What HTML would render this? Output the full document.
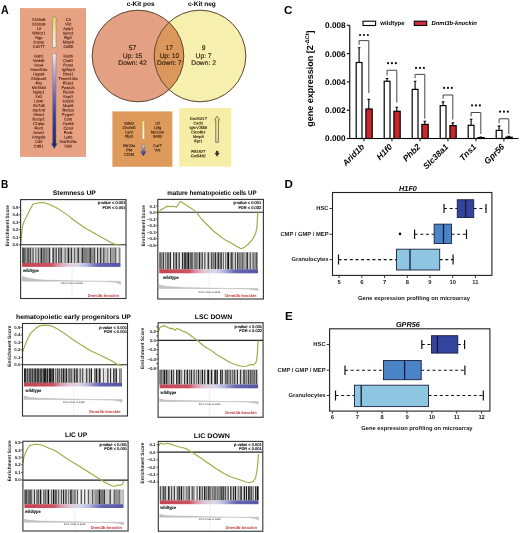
<!DOCTYPE html>
<html><head><meta charset="utf-8"><style>
html,body{margin:0;padding:0;background:#fff;}
svg{display:block;filter:blur(0.35px);}
text{font-family:"Liberation Sans",sans-serif;text-rendering:geometricPrecision;}
</style></head><body>
<svg width="520" height="533" viewBox="0 0 520 533">
<rect width="520" height="533" fill="#fff"/>
<text x="1.00" y="13.65" font-size="12.6" text-anchor="start" font-weight="bold" fill="#000" textLength="7.7" lengthAdjust="spacingAndGlyphs">A</text>
<rect x="20" y="8.1" width="66" height="148.8" fill="#e6a283"/>
<defs>
<linearGradient id="gup" x1="0" y1="0" x2="0" y2="1"><stop offset="0" stop-color="#f2d24a"/><stop offset="0.45" stop-color="#f4e6a0"/><stop offset="1" stop-color="#f4f0f0"/></linearGradient>
<linearGradient id="gdn" x1="0" y1="0" x2="0" y2="1"><stop offset="0" stop-color="#f6f2f0"/><stop offset="0.2" stop-color="#b0acd4"/><stop offset="0.45" stop-color="#6a68a8"/><stop offset="0.65" stop-color="#3e4084"/><stop offset="1" stop-color="#22265a"/></linearGradient>
<linearGradient id="gup2" x1="0" y1="0" x2="0" y2="1"><stop offset="0" stop-color="#f6e86a"/><stop offset="1" stop-color="#fbfaf0"/></linearGradient>
<linearGradient id="gdn2" x1="0" y1="0" x2="0" y2="1"><stop offset="0" stop-color="#d8d6f0"/><stop offset="0.5" stop-color="#6a68b0"/><stop offset="1" stop-color="#2a2a6a"/></linearGradient>
<linearGradient id="gup3" x1="0" y1="0" x2="0" y2="1"><stop offset="0" stop-color="#eee68a"/><stop offset="0.55" stop-color="#e8e29c"/><stop offset="1" stop-color="#d6d4c6"/></linearGradient>
</defs>
<path d="M52.599999999999994,47.5 L52.599999999999994,20.2 L51.4,20.2 L54.3,16.2 L57.199999999999996,20.2 L56.0,20.2 L56.0,47.5 Z" fill="url(#gup)" stroke="#8a7f7a" stroke-width="0.6"/>
<path d="M52.599999999999994,53.8 L56.0,53.8 L56.0,143.5 L57.4,143.5 L54.3,148.8 L51.199999999999996,143.5 L52.599999999999994,143.5 Z" fill="url(#gdn)" stroke="#7a7890" stroke-width="0.5"/>
<g transform="rotate(0.03,53,82)">
<text x="38.80" y="20.90" font-size="3.9" text-anchor="middle" fill="#461a0e" stroke="#461a0e" stroke-width="0.1">S100a8</text>
<text x="38.80" y="25.40" font-size="3.9" text-anchor="middle" fill="#461a0e" stroke="#461a0e" stroke-width="0.1">S100a9</text>
<text x="38.80" y="29.90" font-size="3.9" text-anchor="middle" fill="#461a0e" stroke="#461a0e" stroke-width="0.1">Ltf</text>
<text x="38.80" y="34.40" font-size="3.9" text-anchor="middle" fill="#461a0e" stroke="#461a0e" stroke-width="0.1">Wfdc21</text>
<text x="38.80" y="38.90" font-size="3.9" text-anchor="middle" fill="#461a0e" stroke="#461a0e" stroke-width="0.1">Ngp</text>
<text x="38.80" y="43.40" font-size="3.9" text-anchor="middle" fill="#461a0e" stroke="#461a0e" stroke-width="0.1">Camp</text>
<text x="38.80" y="47.90" font-size="3.9" text-anchor="middle" fill="#461a0e" stroke="#461a0e" stroke-width="0.1">Cd177</text>
<text x="68.20" y="20.90" font-size="3.9" text-anchor="middle" fill="#461a0e" stroke="#461a0e" stroke-width="0.1">C3</text>
<text x="68.20" y="25.40" font-size="3.9" text-anchor="middle" fill="#461a0e" stroke="#461a0e" stroke-width="0.1">Vil2</text>
<text x="68.20" y="29.90" font-size="3.9" text-anchor="middle" fill="#461a0e" stroke="#461a0e" stroke-width="0.1">Aplp1</text>
<text x="68.20" y="34.40" font-size="3.9" text-anchor="middle" fill="#461a0e" stroke="#461a0e" stroke-width="0.1">Syne1</text>
<text x="68.20" y="38.90" font-size="3.9" text-anchor="middle" fill="#461a0e" stroke="#461a0e" stroke-width="0.1">Rgl1</text>
<text x="68.20" y="43.40" font-size="3.9" text-anchor="middle" fill="#461a0e" stroke="#461a0e" stroke-width="0.1">Mmp8</text>
<text x="68.20" y="47.90" font-size="3.9" text-anchor="middle" fill="#461a0e" stroke="#461a0e" stroke-width="0.1">Cd55</text>
<text x="38.80" y="57.60" font-size="3.9" text-anchor="middle" fill="#461a0e" stroke="#461a0e" stroke-width="0.1">Gab1</text>
<text x="38.80" y="62.10" font-size="3.9" text-anchor="middle" fill="#461a0e" stroke="#461a0e" stroke-width="0.1">Nedd9</text>
<text x="38.80" y="66.60" font-size="3.9" text-anchor="middle" fill="#461a0e" stroke="#461a0e" stroke-width="0.1">Sox4</text>
<text x="38.80" y="71.10" font-size="3.9" text-anchor="middle" fill="#461a0e" stroke="#461a0e" stroke-width="0.1">Snord16a</text>
<text x="38.80" y="75.60" font-size="3.9" text-anchor="middle" fill="#461a0e" stroke="#461a0e" stroke-width="0.1">Hspa8</text>
<text x="38.80" y="80.10" font-size="3.9" text-anchor="middle" fill="#461a0e" stroke="#461a0e" stroke-width="0.1">Sh3pxd2</text>
<text x="38.80" y="84.60" font-size="3.9" text-anchor="middle" fill="#461a0e" stroke="#461a0e" stroke-width="0.1">Fns</text>
<text x="38.80" y="89.10" font-size="3.9" text-anchor="middle" fill="#461a0e" stroke="#461a0e" stroke-width="0.1">Mir1946</text>
<text x="38.80" y="93.60" font-size="3.9" text-anchor="middle" fill="#461a0e" stroke="#461a0e" stroke-width="0.1">Ngfrp1</text>
<text x="38.80" y="98.10" font-size="3.9" text-anchor="middle" fill="#461a0e" stroke="#461a0e" stroke-width="0.1">Xrl2</text>
<text x="38.80" y="102.60" font-size="3.9" text-anchor="middle" fill="#461a0e" stroke="#461a0e" stroke-width="0.1">Ltb4r</text>
<text x="38.80" y="107.10" font-size="3.9" text-anchor="middle" fill="#461a0e" stroke="#461a0e" stroke-width="0.1">Slc7a5</text>
<text x="38.80" y="111.60" font-size="3.9" text-anchor="middle" fill="#461a0e" stroke="#461a0e" stroke-width="0.1">Atp10d</text>
<text x="38.80" y="116.10" font-size="3.9" text-anchor="middle" fill="#461a0e" stroke="#461a0e" stroke-width="0.1">Slmo2</text>
<text x="38.80" y="120.60" font-size="3.9" text-anchor="middle" fill="#461a0e" stroke="#461a0e" stroke-width="0.1">Bzrap1</text>
<text x="38.80" y="125.10" font-size="3.9" text-anchor="middle" fill="#461a0e" stroke="#461a0e" stroke-width="0.1">C1qbp</text>
<text x="38.80" y="129.60" font-size="3.9" text-anchor="middle" fill="#461a0e" stroke="#461a0e" stroke-width="0.1">Fech</text>
<text x="38.80" y="134.10" font-size="3.9" text-anchor="middle" fill="#461a0e" stroke="#461a0e" stroke-width="0.1">Sesn1</text>
<text x="38.80" y="138.60" font-size="3.9" text-anchor="middle" fill="#461a0e" stroke="#461a0e" stroke-width="0.1">Arhgdib</text>
<text x="38.80" y="143.10" font-size="3.9" text-anchor="middle" fill="#461a0e" stroke="#461a0e" stroke-width="0.1">Cd9</text>
<text x="38.80" y="147.60" font-size="3.9" text-anchor="middle" fill="#461a0e" stroke="#461a0e" stroke-width="0.1">Cd81</text>
<text x="68.20" y="57.60" font-size="3.9" text-anchor="middle" fill="#461a0e" stroke="#461a0e" stroke-width="0.1">Hadh</text>
<text x="68.20" y="62.10" font-size="3.9" text-anchor="middle" fill="#461a0e" stroke="#461a0e" stroke-width="0.1">Cisd1</text>
<text x="68.20" y="66.60" font-size="3.9" text-anchor="middle" fill="#461a0e" stroke="#461a0e" stroke-width="0.1">Pcnt2</text>
<text x="68.20" y="71.10" font-size="3.9" text-anchor="middle" fill="#461a0e" stroke="#461a0e" stroke-width="0.1">Igf2bp3</text>
<text x="68.20" y="75.60" font-size="3.9" text-anchor="middle" fill="#461a0e" stroke="#461a0e" stroke-width="0.1">Dhrs1</text>
<text x="68.20" y="80.10" font-size="3.9" text-anchor="middle" fill="#461a0e" stroke="#461a0e" stroke-width="0.1">Tmem106c</text>
<text x="68.20" y="84.60" font-size="3.9" text-anchor="middle" fill="#461a0e" stroke="#461a0e" stroke-width="0.1">F13a1</text>
<text x="68.20" y="89.10" font-size="3.9" text-anchor="middle" fill="#461a0e" stroke="#461a0e" stroke-width="0.1">Ppap2c</text>
<text x="68.20" y="93.60" font-size="3.9" text-anchor="middle" fill="#461a0e" stroke="#461a0e" stroke-width="0.1">Pscd4</text>
<text x="68.20" y="98.10" font-size="3.9" text-anchor="middle" fill="#461a0e" stroke="#461a0e" stroke-width="0.1">Sept1</text>
<text x="68.20" y="102.60" font-size="3.9" text-anchor="middle" fill="#461a0e" stroke="#461a0e" stroke-width="0.1">Cd300</text>
<text x="68.20" y="107.10" font-size="3.9" text-anchor="middle" fill="#461a0e" stroke="#461a0e" stroke-width="0.1">Mcpt8</text>
<text x="68.20" y="111.60" font-size="3.9" text-anchor="middle" fill="#461a0e" stroke="#461a0e" stroke-width="0.1">Retsat</text>
<text x="68.20" y="116.10" font-size="3.9" text-anchor="middle" fill="#461a0e" stroke="#461a0e" stroke-width="0.1">Pygm1</text>
<text x="68.20" y="120.60" font-size="3.9" text-anchor="middle" fill="#461a0e" stroke="#461a0e" stroke-width="0.1">Cst6</text>
<text x="68.20" y="125.10" font-size="3.9" text-anchor="middle" fill="#461a0e" stroke="#461a0e" stroke-width="0.1">Gpr84</text>
<text x="68.20" y="129.60" font-size="3.9" text-anchor="middle" fill="#461a0e" stroke="#461a0e" stroke-width="0.1">Cpa3</text>
<text x="68.20" y="134.10" font-size="3.9" text-anchor="middle" fill="#461a0e" stroke="#461a0e" stroke-width="0.1">Fcnb</text>
<text x="68.20" y="138.60" font-size="3.9" text-anchor="middle" fill="#461a0e" stroke="#461a0e" stroke-width="0.1">Ly86</text>
<text x="68.20" y="143.10" font-size="3.9" text-anchor="middle" fill="#461a0e" stroke="#461a0e" stroke-width="0.1">Hist1h2bc</text>
<text x="68.20" y="147.60" font-size="3.9" text-anchor="middle" fill="#461a0e" stroke="#461a0e" stroke-width="0.1">Ifi30</text>
</g>
<text x="126.80" y="5.80" font-size="6.5" text-anchor="start" font-weight="bold" fill="#000" >c-Kit pos</text>
<text x="188.00" y="5.80" font-size="6.5" text-anchor="start" font-weight="bold" fill="#000" >c-Kit neg</text>
<defs><clipPath id="cl"><circle cx="138" cy="56" r="45.8"/></clipPath></defs>
<circle cx="138" cy="56" r="45.8" fill="#e3a082"/>
<circle cx="200" cy="56" r="45.8" fill="#f7efad"/>
<circle cx="200" cy="56" r="45.8" fill="#dc985a" clip-path="url(#cl)"/>
<circle cx="138" cy="56" r="45.8" fill="none" stroke="#5a4632" stroke-width="1.0"/>
<circle cx="200" cy="56" r="45.8" fill="none" stroke="#5a4632" stroke-width="1.0"/>
<text x="132.50" y="50.20" font-size="6.7" text-anchor="middle" fill="#36200f" stroke="#36200f" stroke-width="0.15">57</text>
<text x="132.50" y="57.60" font-size="6.7" text-anchor="middle" fill="#36200f" stroke="#36200f" stroke-width="0.15">Up: 15</text>
<text x="132.50" y="65.00" font-size="6.7" text-anchor="middle" fill="#36200f" stroke="#36200f" stroke-width="0.15">Down: 42</text>
<text x="169.30" y="50.20" font-size="6.7" text-anchor="middle" fill="#36200f" stroke="#36200f" stroke-width="0.15">17</text>
<text x="169.30" y="57.60" font-size="6.7" text-anchor="middle" fill="#36200f" stroke="#36200f" stroke-width="0.15">Up: 10</text>
<text x="169.30" y="65.00" font-size="6.7" text-anchor="middle" fill="#36200f" stroke="#36200f" stroke-width="0.15">Down: 7</text>
<text x="203.60" y="50.20" font-size="6.7" text-anchor="middle" fill="#36200f" stroke="#36200f" stroke-width="0.15">9</text>
<text x="203.60" y="57.60" font-size="6.7" text-anchor="middle" fill="#36200f" stroke="#36200f" stroke-width="0.15">Up: 7</text>
<text x="203.60" y="65.00" font-size="6.7" text-anchor="middle" fill="#36200f" stroke="#36200f" stroke-width="0.15">Down: 2</text>
<rect x="112.4" y="111.4" width="60" height="55.4" fill="#de9a5a"/>
<rect x="179.3" y="108.1" width="52" height="58.5" fill="#f6eea6"/>
<g transform="rotate(0.03,142,140)">
<text x="129.20" y="124.80" font-size="3.9" text-anchor="middle" fill="#3a2414" stroke="#3a2414" stroke-width="0.14">Sdsl2</text>
<text x="129.20" y="129.10" font-size="3.9" text-anchor="middle" fill="#3a2414" stroke="#3a2414" stroke-width="0.14">Chchd1</text>
<text x="129.20" y="133.40" font-size="3.9" text-anchor="middle" fill="#3a2414" stroke="#3a2414" stroke-width="0.14">Lyz2</text>
<text x="129.20" y="137.70" font-size="3.9" text-anchor="middle" fill="#3a2414" stroke="#3a2414" stroke-width="0.14">Fpr2</text>
<text x="129.20" y="147.00" font-size="3.9" text-anchor="middle" fill="#3a2414" stroke="#3a2414" stroke-width="0.14">Mir23a</text>
<text x="129.20" y="151.40" font-size="3.9" text-anchor="middle" fill="#3a2414" stroke="#3a2414" stroke-width="0.14">Pf4</text>
<text x="129.20" y="155.80" font-size="3.9" text-anchor="middle" fill="#3a2414" stroke="#3a2414" stroke-width="0.14">CD34</text>
<text x="157.50" y="124.80" font-size="3.9" text-anchor="middle" fill="#3a2414" stroke="#3a2414" stroke-width="0.14">Lif</text>
<text x="157.50" y="129.10" font-size="3.9" text-anchor="middle" fill="#3a2414" stroke="#3a2414" stroke-width="0.14">Lyfg</text>
<text x="157.50" y="133.40" font-size="3.9" text-anchor="middle" fill="#3a2414" stroke="#3a2414" stroke-width="0.14">Mecom</text>
<text x="157.50" y="137.70" font-size="3.9" text-anchor="middle" fill="#3a2414" stroke="#3a2414" stroke-width="0.14">Wnt3</text>
<text x="157.50" y="147.00" font-size="3.9" text-anchor="middle" fill="#3a2414" stroke="#3a2414" stroke-width="0.14">Car7</text>
<text x="157.50" y="151.40" font-size="3.9" text-anchor="middle" fill="#3a2414" stroke="#3a2414" stroke-width="0.14">Vnt</text>
</g>
<path d="M142.20000000000002,139 L142.20000000000002,123 L141.4,123 L143.4,120.2 L145.4,123 L144.6,123 L144.6,139 Z" fill="url(#gup2)" stroke="#9a8a60" stroke-width="0.4"/>
<path d="M142.1,145 L144.70000000000002,145 L144.70000000000002,151.5 L146.4,151.5 L143.4,156 L140.4,151.5 L142.1,151.5 Z" fill="url(#gdn2)" stroke="#555" stroke-width="0.3"/>
<g transform="rotate(0.03,198,137)">
<text x="198.30" y="119.90" font-size="3.9" text-anchor="middle" fill="#2e2a14" stroke="#2e2a14" stroke-width="0.14">Gm20317</text>
<text x="198.30" y="124.40" font-size="3.9" text-anchor="middle" fill="#2e2a14" stroke="#2e2a14" stroke-width="0.14">Cxcl2</text>
<text x="198.30" y="128.90" font-size="3.9" text-anchor="middle" fill="#2e2a14" stroke="#2e2a14" stroke-width="0.14">Igh-VJ558</text>
<text x="198.30" y="133.40" font-size="3.9" text-anchor="middle" fill="#2e2a14" stroke="#2e2a14" stroke-width="0.14">Clec4b2</text>
<text x="198.30" y="137.90" font-size="3.9" text-anchor="middle" fill="#2e2a14" stroke="#2e2a14" stroke-width="0.14">Mmp8</text>
<text x="198.30" y="142.40" font-size="3.9" text-anchor="middle" fill="#2e2a14" stroke="#2e2a14" stroke-width="0.14">Fpr1</text>
<text x="198.30" y="152.80" font-size="3.9" text-anchor="middle" fill="#2e2a14" stroke="#2e2a14" stroke-width="0.14">Rik1627</text>
<text x="198.30" y="157.20" font-size="3.9" text-anchor="middle" fill="#2e2a14" stroke="#2e2a14" stroke-width="0.14">Gm5482</text>
</g>
<path d="M215.7,142.4 L215.7,120 L214.5,120 L217.1,116.2 L219.7,120 L218.5,120 L218.5,142.4 Z" fill="url(#gup3)" stroke="#5e5838" stroke-width="0.7"/>
<path d="M216.1,151 L218.1,151 L218.1,153 L219.29999999999998,153 L217.1,156.5 L214.9,153 L216.1,153 Z" fill="#333" stroke="#222" stroke-width="0.3"/>
<text x="284.00" y="13.60" font-size="11.6" text-anchor="start" font-weight="bold" fill="#000" >C</text>
<g stroke="#000" stroke-width="1.1" fill="none">
<path d="M349.75,25.2 L349.75,138.5 L518.5,138.5"/>
<path d="M346.8,138.50 L349.75,138.50"/>
<path d="M346.8,110.20 L349.75,110.20"/>
<path d="M346.8,81.90 L349.75,81.90"/>
<path d="M346.8,53.60 L349.75,53.60"/>
<path d="M346.8,25.30 L349.75,25.30"/>
</g>
<text x="345.60" y="141.45" font-size="8.2" text-anchor="end" font-weight="bold" fill="#000" >0.000</text>
<text x="345.60" y="113.15" font-size="8.2" text-anchor="end" font-weight="bold" fill="#000" >0.002</text>
<text x="345.60" y="84.85" font-size="8.2" text-anchor="end" font-weight="bold" fill="#000" >0.004</text>
<text x="345.60" y="56.55" font-size="8.2" text-anchor="end" font-weight="bold" fill="#000" >0.006</text>
<text x="345.60" y="28.25" font-size="8.2" text-anchor="end" font-weight="bold" fill="#000" >0.008</text>
<text transform="translate(312.6,78.6) rotate(-90)" font-size="9" font-weight="bold" text-anchor="middle" fill="#000">gene expression [2<tspan font-size="5.6" dy="-3.6">-ΔCt</tspan><tspan dy="3.6">]</tspan></text>
<rect x="363" y="21.2" width="12.6" height="4.3" fill="#fff" stroke="#000" stroke-width="1.1"/>
<text x="380.30" y="25.20" font-size="6.0" text-anchor="start" font-weight="bold" fill="#000" letter-spacing="0.05">wildtype</text>
<rect x="414.3" y="21.2" width="12.4" height="4.3" fill="#d42a44" stroke="#000" stroke-width="1.1"/>
<text x="431.50" y="25.40" font-size="5.8" text-anchor="start" font-weight="bold" font-style="italic" fill="#000" >Dnmt3b-knockin</text>
<path d="M359.10,62.50 L359.10,47.75 M357.80,47.75 L360.40,47.75" stroke="#000" stroke-width="1.1" fill="none"/>
<path d="M368.80,109.00 L368.80,99.40 M367.50,99.40 L370.10,99.40" stroke="#000" stroke-width="1.1" fill="none"/>
<rect x="356.20" y="62.50" width="5.80" height="76.00" fill="#fff" stroke="#000" stroke-width="1.2"/>
<rect x="365.90" y="109.00" width="6.30" height="29.50" fill="#c8282c" stroke="#000" stroke-width="1.2"/>
<path d="M359.10,44.75 L359.10,40.60 L368.80,40.60 L368.80,93.10" stroke="#333" stroke-width="0.9" fill="none"/>
<circle cx="360.05" cy="35.00" r="1.12" fill="#111"/>
<circle cx="363.95" cy="35.00" r="1.12" fill="#111"/>
<circle cx="367.85" cy="35.00" r="1.12" fill="#111"/>
<path d="M363.95,138.5 L363.95,141.3" stroke="#000" stroke-width="1"/>
<text transform="translate(364.95,147.4) rotate(-45)" font-size="8.5" font-weight="bold" font-style="italic" text-anchor="end" fill="#000">Arid1b</text>
<path d="M387.10,81.25 L387.10,78.50 M385.80,78.50 L388.40,78.50" stroke="#000" stroke-width="1.1" fill="none"/>
<path d="M396.80,111.25 L396.80,107.25 M395.50,107.25 L398.10,107.25" stroke="#000" stroke-width="1.1" fill="none"/>
<rect x="384.20" y="81.25" width="5.80" height="57.25" fill="#fff" stroke="#000" stroke-width="1.2"/>
<rect x="393.90" y="111.25" width="6.30" height="27.25" fill="#c8282c" stroke="#000" stroke-width="1.2"/>
<path d="M387.10,75.50 L387.10,70.25 L396.80,70.25 L396.80,102.50" stroke="#333" stroke-width="0.9" fill="none"/>
<circle cx="388.05" cy="63.15" r="1.12" fill="#111"/>
<circle cx="391.95" cy="63.15" r="1.12" fill="#111"/>
<circle cx="395.85" cy="63.15" r="1.12" fill="#111"/>
<path d="M391.95,138.5 L391.95,141.3" stroke="#000" stroke-width="1"/>
<text transform="translate(392.95,147.4) rotate(-45)" font-size="8.5" font-weight="bold" font-style="italic" text-anchor="end" fill="#000">H1f0</text>
<path d="M415.10,89.40 L415.10,81.25 M413.80,81.25 L416.40,81.25" stroke="#000" stroke-width="1.1" fill="none"/>
<path d="M424.80,124.40 L424.80,121.25 M423.50,121.25 L426.10,121.25" stroke="#000" stroke-width="1.1" fill="none"/>
<rect x="412.20" y="89.40" width="5.80" height="49.10" fill="#fff" stroke="#000" stroke-width="1.2"/>
<rect x="421.90" y="124.40" width="6.30" height="14.10" fill="#c8282c" stroke="#000" stroke-width="1.2"/>
<path d="M415.10,78.25 L415.10,74.40 L424.80,74.40 L424.80,118.75" stroke="#333" stroke-width="0.9" fill="none"/>
<circle cx="416.05" cy="67.90" r="1.12" fill="#111"/>
<circle cx="419.95" cy="67.90" r="1.12" fill="#111"/>
<circle cx="423.85" cy="67.90" r="1.12" fill="#111"/>
<path d="M419.95,138.5 L419.95,141.3" stroke="#000" stroke-width="1"/>
<text transform="translate(420.95,147.4) rotate(-45)" font-size="8.5" font-weight="bold" font-style="italic" text-anchor="end" fill="#000">Phb2</text>
<path d="M443.10,105.60 L443.10,101.90 M441.80,101.90 L444.40,101.90" stroke="#000" stroke-width="1.1" fill="none"/>
<path d="M452.80,125.65 L452.80,122.90 M451.50,122.90 L454.10,122.90" stroke="#000" stroke-width="1.1" fill="none"/>
<rect x="440.20" y="105.60" width="5.80" height="32.90" fill="#fff" stroke="#000" stroke-width="1.2"/>
<rect x="449.90" y="125.65" width="6.30" height="12.85" fill="#c8282c" stroke="#000" stroke-width="1.2"/>
<path d="M443.10,98.90 L443.10,95.00 L452.80,95.00 L452.80,119.50" stroke="#333" stroke-width="0.9" fill="none"/>
<circle cx="444.05" cy="87.90" r="1.12" fill="#111"/>
<circle cx="447.95" cy="87.90" r="1.12" fill="#111"/>
<circle cx="451.85" cy="87.90" r="1.12" fill="#111"/>
<path d="M447.95,138.5 L447.95,141.3" stroke="#000" stroke-width="1"/>
<text transform="translate(448.95,147.4) rotate(-45)" font-size="8.5" font-weight="bold" font-style="italic" text-anchor="end" fill="#000">Slc38a1</text>
<path d="M471.10,125.30 L471.10,119.30 M469.80,119.30 L472.40,119.30" stroke="#000" stroke-width="1.1" fill="none"/>
<path d="M480.80,137.60 L480.80,137.00 M479.50,137.00 L482.10,137.00" stroke="#000" stroke-width="1.1" fill="none"/>
<rect x="468.20" y="125.30" width="5.80" height="13.20" fill="#fff" stroke="#000" stroke-width="1.2"/>
<rect x="477.90" y="137.60" width="6.30" height="0.90" fill="#c8282c" stroke="#000" stroke-width="1.2"/>
<path d="M471.10,116.30 L471.10,112.50 L480.80,112.50 L480.80,134.00" stroke="#333" stroke-width="0.9" fill="none"/>
<circle cx="472.05" cy="105.40" r="1.12" fill="#111"/>
<circle cx="475.95" cy="105.40" r="1.12" fill="#111"/>
<circle cx="479.85" cy="105.40" r="1.12" fill="#111"/>
<path d="M475.95,138.5 L475.95,141.3" stroke="#000" stroke-width="1"/>
<text transform="translate(476.95,147.4) rotate(-45)" font-size="8.5" font-weight="bold" font-style="italic" text-anchor="end" fill="#000">Tns1</text>
<path d="M499.10,130.40 L499.10,126.10 M497.80,126.10 L500.40,126.10" stroke="#000" stroke-width="1.1" fill="none"/>
<path d="M508.80,137.20 L508.80,136.40 M507.50,136.40 L510.10,136.40" stroke="#000" stroke-width="1.1" fill="none"/>
<rect x="496.20" y="130.40" width="5.80" height="8.10" fill="#fff" stroke="#000" stroke-width="1.2"/>
<rect x="505.90" y="137.20" width="6.30" height="1.30" fill="#c8282c" stroke="#000" stroke-width="1.2"/>
<path d="M499.10,123.10 L499.10,118.80 L508.80,118.80 L508.80,134.00" stroke="#333" stroke-width="0.9" fill="none"/>
<circle cx="500.05" cy="111.65" r="1.12" fill="#111"/>
<circle cx="503.95" cy="111.65" r="1.12" fill="#111"/>
<circle cx="507.85" cy="111.65" r="1.12" fill="#111"/>
<path d="M503.95,138.5 L503.95,141.3" stroke="#000" stroke-width="1"/>
<text transform="translate(504.95,147.4) rotate(-45)" font-size="8.5" font-weight="bold" font-style="italic" text-anchor="end" fill="#000">Gpr56</text>
<text x="0.90" y="187.80" font-size="11.6" text-anchor="start" font-weight="bold" fill="#000" textLength="7.3" lengthAdjust="spacingAndGlyphs">B</text>
<text x="74.30" y="194.90" font-size="6.7" text-anchor="middle" font-weight="bold" fill="#000" textLength="43.0" lengthAdjust="spacingAndGlyphs">Stemness UP</text>
<text transform="translate(9.30,225.60) rotate(-90)" font-size="4.8" font-weight="bold" text-anchor="middle" fill="#222">Enrichment Score</text>
<path d="M18.70,207.25 L20.60,207.25" stroke="#222" stroke-width="0.7"/>
<text x="18.40" y="208.75" font-size="4.3" text-anchor="end" font-weight="bold" fill="#222" >0.5</text>
<path d="M18.70,214.75 L20.60,214.75" stroke="#222" stroke-width="0.7"/>
<text x="18.40" y="216.25" font-size="4.3" text-anchor="end" font-weight="bold" fill="#222" >0.4</text>
<path d="M18.70,222.25 L20.60,222.25" stroke="#222" stroke-width="0.7"/>
<text x="18.40" y="223.75" font-size="4.3" text-anchor="end" font-weight="bold" fill="#222" >0.3</text>
<path d="M18.70,229.75 L20.60,229.75" stroke="#222" stroke-width="0.7"/>
<text x="18.40" y="231.25" font-size="4.3" text-anchor="end" font-weight="bold" fill="#222" >0.2</text>
<path d="M18.70,237.25 L20.60,237.25" stroke="#222" stroke-width="0.7"/>
<text x="18.40" y="238.75" font-size="4.3" text-anchor="end" font-weight="bold" fill="#222" >0.1</text>
<path d="M18.70,244.75 L20.60,244.75" stroke="#222" stroke-width="0.7"/>
<text x="18.40" y="246.25" font-size="4.3" text-anchor="end" font-weight="bold" fill="#222" >0.0</text>
<rect x="22.10" y="247.60" width="98.40" height="15.40" fill="#c0c0c0"/>
<rect x="22.10" y="247.60" width="2.77" height="15.40" fill="rgb(78,78,78)"/>
<rect x="24.87" y="247.60" width="0.50" height="15.40" fill="rgb(144,144,144)"/>
<rect x="25.37" y="247.60" width="1.19" height="15.40" fill="rgb(90,90,90)"/>
<rect x="26.56" y="247.60" width="0.90" height="15.40" fill="rgb(194,194,194)"/>
<rect x="27.46" y="247.60" width="1.29" height="15.40" fill="rgb(19,19,19)"/>
<rect x="28.75" y="247.60" width="0.83" height="15.40" fill="rgb(189,189,189)"/>
<rect x="29.58" y="247.60" width="1.67" height="15.40" fill="rgb(75,75,75)"/>
<rect x="31.25" y="247.60" width="1.13" height="15.40" fill="rgb(202,202,202)"/>
<rect x="32.39" y="247.60" width="1.46" height="15.40" fill="rgb(95,95,95)"/>
<rect x="33.85" y="247.60" width="1.71" height="15.40" fill="rgb(222,222,222)"/>
<rect x="35.56" y="247.60" width="0.82" height="15.40" fill="rgb(39,39,39)"/>
<rect x="36.38" y="247.60" width="1.48" height="15.40" fill="rgb(202,202,202)"/>
<rect x="37.86" y="247.60" width="1.00" height="15.40" fill="rgb(62,62,62)"/>
<rect x="38.87" y="247.60" width="1.76" height="15.40" fill="rgb(182,182,182)"/>
<rect x="40.62" y="247.60" width="1.44" height="15.40" fill="rgb(46,46,46)"/>
<rect x="42.07" y="247.60" width="1.50" height="15.40" fill="rgb(138,138,138)"/>
<rect x="43.57" y="247.60" width="1.14" height="15.40" fill="rgb(55,55,55)"/>
<rect x="44.71" y="247.60" width="1.73" height="15.40" fill="rgb(146,146,146)"/>
<rect x="46.43" y="247.60" width="1.01" height="15.40" fill="rgb(86,86,86)"/>
<rect x="47.44" y="247.60" width="1.52" height="15.40" fill="rgb(148,148,148)"/>
<rect x="48.97" y="247.60" width="1.47" height="15.40" fill="rgb(58,58,58)"/>
<rect x="50.44" y="247.60" width="1.99" height="15.40" fill="rgb(239,239,239)"/>
<rect x="52.43" y="247.60" width="1.61" height="15.40" fill="rgb(69,69,69)"/>
<rect x="54.04" y="247.60" width="1.64" height="15.40" fill="rgb(177,177,177)"/>
<rect x="55.68" y="247.60" width="1.22" height="15.40" fill="rgb(60,60,60)"/>
<rect x="56.89" y="247.60" width="1.37" height="15.40" fill="rgb(229,229,229)"/>
<rect x="58.26" y="247.60" width="1.18" height="15.40" fill="rgb(42,42,42)"/>
<rect x="59.45" y="247.60" width="1.26" height="15.40" fill="rgb(146,146,146)"/>
<rect x="60.71" y="247.60" width="1.50" height="15.40" fill="rgb(67,67,67)"/>
<rect x="62.22" y="247.60" width="1.70" height="15.40" fill="rgb(209,209,209)"/>
<rect x="63.92" y="247.60" width="0.73" height="15.40" fill="rgb(94,94,94)"/>
<rect x="64.65" y="247.60" width="0.80" height="15.40" fill="rgb(216,216,216)"/>
<rect x="65.46" y="247.60" width="0.81" height="15.40" fill="rgb(66,66,66)"/>
<rect x="66.27" y="247.60" width="1.37" height="15.40" fill="rgb(208,208,208)"/>
<rect x="67.64" y="247.60" width="1.35" height="15.40" fill="rgb(36,36,36)"/>
<rect x="68.99" y="247.60" width="2.17" height="15.40" fill="rgb(165,165,165)"/>
<rect x="71.16" y="247.60" width="0.96" height="15.40" fill="rgb(32,32,32)"/>
<rect x="72.12" y="247.60" width="2.32" height="15.40" fill="rgb(203,203,203)"/>
<rect x="74.44" y="247.60" width="0.72" height="15.40" fill="rgb(23,23,23)"/>
<rect x="75.16" y="247.60" width="2.39" height="15.40" fill="rgb(191,191,191)"/>
<rect x="77.55" y="247.60" width="1.68" height="15.40" fill="rgb(66,66,66)"/>
<rect x="79.22" y="247.60" width="2.46" height="15.40" fill="rgb(191,191,191)"/>
<rect x="81.68" y="247.60" width="1.36" height="15.40" fill="rgb(48,48,48)"/>
<rect x="83.04" y="247.60" width="2.69" height="15.40" fill="rgb(126,126,126)"/>
<rect x="85.73" y="247.60" width="1.01" height="15.40" fill="rgb(94,94,94)"/>
<rect x="86.74" y="247.60" width="2.84" height="15.40" fill="rgb(140,140,140)"/>
<rect x="89.59" y="247.60" width="1.29" height="15.40" fill="rgb(29,29,29)"/>
<rect x="90.88" y="247.60" width="3.45" height="15.40" fill="rgb(143,143,143)"/>
<rect x="94.32" y="247.60" width="1.08" height="15.40" fill="rgb(41,41,41)"/>
<rect x="95.40" y="247.60" width="1.60" height="15.40" fill="rgb(227,227,227)"/>
<rect x="97.00" y="247.60" width="1.00" height="15.40" fill="rgb(54,54,54)"/>
<rect x="98.00" y="247.60" width="2.03" height="15.40" fill="rgb(190,190,190)"/>
<rect x="100.03" y="247.60" width="1.51" height="15.40" fill="rgb(60,60,60)"/>
<rect x="101.54" y="247.60" width="1.52" height="15.40" fill="rgb(193,193,193)"/>
<rect x="103.06" y="247.60" width="1.61" height="15.40" fill="rgb(85,85,85)"/>
<rect x="104.67" y="247.60" width="2.92" height="15.40" fill="rgb(183,183,183)"/>
<rect x="107.59" y="247.60" width="0.87" height="15.40" fill="rgb(91,91,91)"/>
<rect x="108.46" y="247.60" width="1.84" height="15.40" fill="rgb(219,219,219)"/>
<rect x="110.29" y="247.60" width="0.81" height="15.40" fill="rgb(31,31,31)"/>
<rect x="111.11" y="247.60" width="4.29" height="15.40" fill="rgb(158,158,158)"/>
<rect x="115.40" y="247.60" width="1.02" height="15.40" fill="rgb(46,46,46)"/>
<rect x="116.42" y="247.60" width="2.40" height="15.40" fill="rgb(227,227,227)"/>
<rect x="118.82" y="247.60" width="0.78" height="15.40" fill="rgb(59,59,59)"/>
<rect x="119.59" y="247.60" width="0.91" height="15.40" fill="rgb(167,167,167)"/>
<defs><linearGradient id="cb1" x1="0" y1="0" x2="1" y2="0"><stop offset="0" stop-color="#c84452"/><stop offset="0.3" stop-color="#cc5262"/><stop offset="0.36" stop-color="#d892a2"/><stop offset="0.46" stop-color="#e0c8d6"/><stop offset="0.56" stop-color="#dcd8ea"/><stop offset="0.65" stop-color="#b8b8de"/><stop offset="0.72" stop-color="#8686c6"/><stop offset="0.78" stop-color="#6464b0"/><stop offset="1" stop-color="#5656a8"/></linearGradient></defs>
<rect x="22.10" y="263.00" width="98.40" height="3.90" fill="url(#cb1)"/>
<text x="23.10" y="272.30" font-size="4.4" text-anchor="start" font-weight="bold" fill="#1e2a24" textLength="15.6" lengthAdjust="spacingAndGlyphs" stroke="#1e2a24" stroke-width="0.15">wildtype</text>
<path d="M72.04,266.90 L72.04,298.50" stroke="#e4e4e4" stroke-width="0.6"/>
<path d="M22.10,281.20 L22.10,276.30 C26.60,277.90 33.60,279.70 46.60,280.10 L71.05,280.70 L106.50,281.60 C115.50,282.00 119.00,282.70 120.50,285.00 L120.50,281.20 Z" fill="#c4c4c4" stroke="#a8a8a8" stroke-width="0.35"/>
<text x="72.04" y="284.20" font-size="2.6" text-anchor="middle" fill="#333" >Zero cross at 6069</text>
<text x="119.00" y="296.70" font-size="4.0" text-anchor="end" font-weight="bold" fill="#c0343a" >Dnmt3b-knockin</text>
<path d="M20.60,244.75 L126.00,244.75" stroke="#222" stroke-width="1.1"/>
<polyline points="20.70,244.50 21.80,231.50 22.80,225.00 23.90,221.80 26.10,217.50 28.80,212.10 30.90,207.80 33.10,204.10 35.20,203.75 38.50,202.70 42.80,202.50 47.10,203.50 52.40,205.70 57.80,208.40 63.20,212.10 68.60,215.90 74.00,220.20 85.00,228.00 97.50,235.00 110.00,241.90 113.75,243.75 117.00,244.90 120.50,244.90" fill="none" stroke="#94b044" stroke-width="1.15" stroke-linejoin="round"/>
<text x="125.40" y="204.40" font-size="4.0" text-anchor="end" fill="#111" stroke="#111" stroke-width="0.18">p-value &lt; 0.001</text>
<text x="125.40" y="208.80" font-size="4.0" text-anchor="end" fill="#111" stroke="#111" stroke-width="0.18">FDR &lt; 0.001</text>
<rect x="20.60" y="199.60" width="105.40" height="98.90" fill="none" stroke="#333" stroke-width="1.1"/>
<text x="211.90" y="195.10" font-size="6.7" text-anchor="middle" font-weight="bold" fill="#000" textLength="89.2" lengthAdjust="spacingAndGlyphs">mature hematopoietic cells UP</text>
<text transform="translate(145.00,225.60) rotate(-90)" font-size="4.8" font-weight="bold" text-anchor="middle" fill="#222">Enrichment Score</text>
<path d="M155.90,206.00 L157.80,206.00" stroke="#222" stroke-width="0.7"/>
<text x="155.60" y="207.50" font-size="4.3" text-anchor="end" font-weight="bold" fill="#222" >0.1</text>
<path d="M155.90,212.25 L157.80,212.25" stroke="#222" stroke-width="0.7"/>
<text x="155.60" y="213.75" font-size="4.3" text-anchor="end" font-weight="bold" fill="#222" >0.0</text>
<path d="M155.90,219.00 L157.80,219.00" stroke="#222" stroke-width="0.7"/>
<text x="155.60" y="220.50" font-size="4.3" text-anchor="end" font-weight="bold" fill="#222" >&#8722;0.1</text>
<path d="M155.90,225.60 L157.80,225.60" stroke="#222" stroke-width="0.7"/>
<text x="155.60" y="227.10" font-size="4.3" text-anchor="end" font-weight="bold" fill="#222" >&#8722;0.2</text>
<path d="M155.90,232.25 L157.80,232.25" stroke="#222" stroke-width="0.7"/>
<text x="155.60" y="233.75" font-size="4.3" text-anchor="end" font-weight="bold" fill="#222" >&#8722;0.3</text>
<path d="M155.90,238.75 L157.80,238.75" stroke="#222" stroke-width="0.7"/>
<text x="155.60" y="240.25" font-size="4.3" text-anchor="end" font-weight="bold" fill="#222" >&#8722;0.4</text>
<path d="M155.90,245.25 L157.80,245.25" stroke="#222" stroke-width="0.7"/>
<text x="155.60" y="246.75" font-size="4.3" text-anchor="end" font-weight="bold" fill="#222" >&#8722;0.5</text>
<rect x="159.30" y="252.40" width="98.70" height="16.90" fill="#c0c0c0"/>
<rect x="159.30" y="252.40" width="1.66" height="16.90" fill="rgb(95,95,95)"/>
<rect x="160.96" y="252.40" width="0.61" height="16.90" fill="rgb(215,215,215)"/>
<rect x="161.56" y="252.40" width="0.95" height="16.90" fill="rgb(29,29,29)"/>
<rect x="162.52" y="252.40" width="0.58" height="16.90" fill="rgb(212,212,212)"/>
<rect x="163.09" y="252.40" width="1.24" height="16.90" fill="rgb(50,50,50)"/>
<rect x="164.34" y="252.40" width="0.94" height="16.90" fill="rgb(232,232,232)"/>
<rect x="165.27" y="252.40" width="1.12" height="16.90" fill="rgb(89,89,89)"/>
<rect x="166.40" y="252.40" width="0.78" height="16.90" fill="rgb(196,196,196)"/>
<rect x="167.17" y="252.40" width="1.70" height="16.90" fill="rgb(70,70,70)"/>
<rect x="168.87" y="252.40" width="0.80" height="16.90" fill="rgb(215,215,215)"/>
<rect x="169.68" y="252.40" width="1.49" height="16.90" fill="rgb(41,41,41)"/>
<rect x="171.17" y="252.40" width="2.05" height="16.90" fill="rgb(242,242,242)"/>
<rect x="173.22" y="252.40" width="1.35" height="16.90" fill="rgb(32,32,32)"/>
<rect x="174.57" y="252.40" width="0.96" height="16.90" fill="rgb(241,241,241)"/>
<rect x="175.53" y="252.40" width="1.60" height="16.90" fill="rgb(51,51,51)"/>
<rect x="177.13" y="252.40" width="1.41" height="16.90" fill="rgb(207,207,207)"/>
<rect x="178.53" y="252.40" width="1.51" height="16.90" fill="rgb(85,85,85)"/>
<rect x="180.05" y="252.40" width="1.89" height="16.90" fill="rgb(232,232,232)"/>
<rect x="181.93" y="252.40" width="1.01" height="16.90" fill="rgb(28,28,28)"/>
<rect x="182.95" y="252.40" width="1.32" height="16.90" fill="rgb(166,166,166)"/>
<rect x="184.27" y="252.40" width="1.61" height="16.90" fill="rgb(27,27,27)"/>
<rect x="185.87" y="252.40" width="1.68" height="16.90" fill="rgb(122,122,122)"/>
<rect x="187.55" y="252.40" width="1.45" height="16.90" fill="rgb(22,22,22)"/>
<rect x="189.01" y="252.40" width="0.93" height="16.90" fill="rgb(161,161,161)"/>
<rect x="189.94" y="252.40" width="0.76" height="16.90" fill="rgb(42,42,42)"/>
<rect x="190.70" y="252.40" width="0.91" height="16.90" fill="rgb(121,121,121)"/>
<rect x="191.61" y="252.40" width="1.07" height="16.90" fill="rgb(21,21,21)"/>
<rect x="192.68" y="252.40" width="1.98" height="16.90" fill="rgb(183,183,183)"/>
<rect x="194.66" y="252.40" width="0.85" height="16.90" fill="rgb(13,13,13)"/>
<rect x="195.51" y="252.40" width="1.06" height="16.90" fill="rgb(150,150,150)"/>
<rect x="196.57" y="252.40" width="1.01" height="16.90" fill="rgb(59,59,59)"/>
<rect x="197.58" y="252.40" width="1.46" height="16.90" fill="rgb(171,171,171)"/>
<rect x="199.04" y="252.40" width="1.17" height="16.90" fill="rgb(30,30,30)"/>
<rect x="200.22" y="252.40" width="1.55" height="16.90" fill="rgb(164,164,164)"/>
<rect x="201.77" y="252.40" width="1.22" height="16.90" fill="rgb(80,80,80)"/>
<rect x="202.99" y="252.40" width="1.28" height="16.90" fill="rgb(231,231,231)"/>
<rect x="204.27" y="252.40" width="1.35" height="16.90" fill="rgb(72,72,72)"/>
<rect x="205.62" y="252.40" width="2.02" height="16.90" fill="rgb(229,229,229)"/>
<rect x="207.63" y="252.40" width="1.34" height="16.90" fill="rgb(55,55,55)"/>
<rect x="208.97" y="252.40" width="2.05" height="16.90" fill="rgb(198,198,198)"/>
<rect x="211.02" y="252.40" width="0.78" height="16.90" fill="rgb(30,30,30)"/>
<rect x="211.80" y="252.40" width="1.75" height="16.90" fill="rgb(151,151,151)"/>
<rect x="213.56" y="252.40" width="0.85" height="16.90" fill="rgb(44,44,44)"/>
<rect x="214.41" y="252.40" width="0.77" height="16.90" fill="rgb(163,163,163)"/>
<rect x="215.18" y="252.40" width="0.81" height="16.90" fill="rgb(12,12,12)"/>
<rect x="215.99" y="252.40" width="1.56" height="16.90" fill="rgb(184,184,184)"/>
<rect x="217.55" y="252.40" width="1.43" height="16.90" fill="rgb(49,49,49)"/>
<rect x="218.98" y="252.40" width="1.32" height="16.90" fill="rgb(162,162,162)"/>
<rect x="220.30" y="252.40" width="1.62" height="16.90" fill="rgb(69,69,69)"/>
<rect x="221.92" y="252.40" width="1.27" height="16.90" fill="rgb(194,194,194)"/>
<rect x="223.19" y="252.40" width="1.01" height="16.90" fill="rgb(88,88,88)"/>
<rect x="224.19" y="252.40" width="1.16" height="16.90" fill="rgb(245,245,245)"/>
<rect x="225.36" y="252.40" width="0.76" height="16.90" fill="rgb(67,67,67)"/>
<rect x="226.12" y="252.40" width="1.24" height="16.90" fill="rgb(190,190,190)"/>
<rect x="227.36" y="252.40" width="1.64" height="16.90" fill="rgb(16,16,16)"/>
<rect x="229.00" y="252.40" width="1.70" height="16.90" fill="rgb(203,203,203)"/>
<rect x="230.69" y="252.40" width="1.10" height="16.90" fill="rgb(20,20,20)"/>
<rect x="231.79" y="252.40" width="0.71" height="16.90" fill="rgb(124,124,124)"/>
<rect x="232.50" y="252.40" width="0.72" height="16.90" fill="rgb(69,69,69)"/>
<rect x="233.22" y="252.40" width="1.73" height="16.90" fill="rgb(202,202,202)"/>
<rect x="234.96" y="252.40" width="0.97" height="16.90" fill="rgb(57,57,57)"/>
<rect x="235.92" y="252.40" width="1.26" height="16.90" fill="rgb(222,222,222)"/>
<rect x="237.19" y="252.40" width="1.09" height="16.90" fill="rgb(24,24,24)"/>
<rect x="238.28" y="252.40" width="1.45" height="16.90" fill="rgb(147,147,147)"/>
<rect x="239.73" y="252.40" width="0.77" height="16.90" fill="rgb(25,25,25)"/>
<rect x="240.51" y="252.40" width="1.37" height="16.90" fill="rgb(160,160,160)"/>
<rect x="241.88" y="252.40" width="0.83" height="16.90" fill="rgb(36,36,36)"/>
<rect x="242.70" y="252.40" width="0.88" height="16.90" fill="rgb(153,153,153)"/>
<rect x="243.59" y="252.40" width="0.86" height="16.90" fill="rgb(98,98,98)"/>
<rect x="244.44" y="252.40" width="2.03" height="16.90" fill="rgb(174,174,174)"/>
<rect x="246.47" y="252.40" width="1.59" height="16.90" fill="rgb(51,51,51)"/>
<rect x="248.07" y="252.40" width="1.62" height="16.90" fill="rgb(204,204,204)"/>
<rect x="249.69" y="252.40" width="1.17" height="16.90" fill="rgb(74,74,74)"/>
<rect x="250.85" y="252.40" width="1.78" height="16.90" fill="rgb(203,203,203)"/>
<rect x="252.64" y="252.40" width="1.10" height="16.90" fill="rgb(73,73,73)"/>
<rect x="253.74" y="252.40" width="1.98" height="16.90" fill="rgb(155,155,155)"/>
<rect x="255.72" y="252.40" width="1.46" height="16.90" fill="rgb(86,86,86)"/>
<rect x="257.18" y="252.40" width="0.82" height="16.90" fill="rgb(151,151,151)"/>
<defs><linearGradient id="cb2" x1="0" y1="0" x2="1" y2="0"><stop offset="0" stop-color="#c84452"/><stop offset="0.3" stop-color="#cc5262"/><stop offset="0.36" stop-color="#d892a2"/><stop offset="0.46" stop-color="#e0c8d6"/><stop offset="0.56" stop-color="#dcd8ea"/><stop offset="0.65" stop-color="#b8b8de"/><stop offset="0.72" stop-color="#8686c6"/><stop offset="0.78" stop-color="#6464b0"/><stop offset="1" stop-color="#5656a8"/></linearGradient></defs>
<rect x="159.30" y="269.30" width="98.70" height="4.00" fill="url(#cb2)"/>
<text x="163.10" y="279.00" font-size="4.4" text-anchor="start" font-weight="bold" fill="#1e2a24" textLength="15.6" lengthAdjust="spacingAndGlyphs" stroke="#1e2a24" stroke-width="0.15">wildtype</text>
<path d="M209.39,273.30 L209.39,299.00" stroke="#e4e4e4" stroke-width="0.6"/>
<path d="M159.30,288.50 L159.30,284.80 C163.80,286.40 170.80,287.00 183.80,287.40 L208.40,288.00 L244.00,288.90 C253.00,289.30 256.50,290.00 258.00,290.50 L258.00,288.50 Z" fill="#c4c4c4" stroke="#a8a8a8" stroke-width="0.35"/>
<text x="209.39" y="292.60" font-size="2.6" text-anchor="middle" fill="#333" >Zero cross at 6069</text>
<text x="256.50" y="296.70" font-size="4.0" text-anchor="end" font-weight="bold" fill="#c0343a" >Dnmt3b-knockin</text>
<path d="M157.80,212.25 L263.40,212.25" stroke="#222" stroke-width="1.1"/>
<polyline points="157.80,214.30 159.80,211.10 160.90,209.50 162.50,208.90 164.70,207.80 166.80,206.20 167.90,206.80 169.50,206.20 171.10,206.80 172.80,206.20 174.90,206.80 176.50,207.30 178.70,203.50 180.30,201.60 183.00,203.00 187.30,205.70 191.60,208.40 195.90,211.60 201.25,218.75 207.50,225.00 213.75,231.25 220.00,236.25 226.25,240.60 231.25,243.10 236.25,246.25 241.25,248.75 245.00,246.90 248.75,243.75 252.50,239.40 255.60,233.75 256.90,227.50 257.50,217.50 257.75,211.50" fill="none" stroke="#94b044" stroke-width="1.15" stroke-linejoin="round"/>
<text x="261.20" y="203.90" font-size="4.0" text-anchor="end" fill="#111" stroke="#111" stroke-width="0.18">p-value &lt; 0.001</text>
<text x="261.20" y="209.20" font-size="4.0" text-anchor="end" fill="#111" stroke="#111" stroke-width="0.18">FDR &lt; 0.032</text>
<rect x="157.80" y="199.40" width="105.60" height="99.60" fill="none" stroke="#333" stroke-width="1.1"/>
<text x="73.45" y="319.00" font-size="6.7" text-anchor="middle" font-weight="bold" fill="#000" textLength="114.9" lengthAdjust="spacingAndGlyphs">hematopoietic early progenitors UP</text>
<text transform="translate(10.50,346.20) rotate(-90)" font-size="4.8" font-weight="bold" text-anchor="middle" fill="#222">Enrichment Score</text>
<path d="M20.60,327.50 L22.50,327.50" stroke="#222" stroke-width="0.7"/>
<text x="20.30" y="329.00" font-size="4.3" text-anchor="end" font-weight="bold" fill="#222" >0.5</text>
<path d="M20.60,334.90 L22.50,334.90" stroke="#222" stroke-width="0.7"/>
<text x="20.30" y="336.40" font-size="4.3" text-anchor="end" font-weight="bold" fill="#222" >0.4</text>
<path d="M20.60,342.30 L22.50,342.30" stroke="#222" stroke-width="0.7"/>
<text x="20.30" y="343.80" font-size="4.3" text-anchor="end" font-weight="bold" fill="#222" >0.3</text>
<path d="M20.60,349.80 L22.50,349.80" stroke="#222" stroke-width="0.7"/>
<text x="20.30" y="351.30" font-size="4.3" text-anchor="end" font-weight="bold" fill="#222" >0.2</text>
<path d="M20.60,357.30 L22.50,357.30" stroke="#222" stroke-width="0.7"/>
<text x="20.30" y="358.80" font-size="4.3" text-anchor="end" font-weight="bold" fill="#222" >0.1</text>
<path d="M20.60,364.75 L22.50,364.75" stroke="#222" stroke-width="0.7"/>
<text x="20.30" y="366.25" font-size="4.3" text-anchor="end" font-weight="bold" fill="#222" >0.0</text>
<rect x="24.00" y="368.50" width="98.00" height="14.30" fill="#c0c0c0"/>
<rect x="24.00" y="368.50" width="2.32" height="14.30" fill="rgb(43,43,43)"/>
<rect x="26.32" y="368.50" width="0.50" height="14.30" fill="rgb(190,190,190)"/>
<rect x="26.82" y="368.50" width="1.79" height="14.30" fill="rgb(74,74,74)"/>
<rect x="28.60" y="368.50" width="0.50" height="14.30" fill="rgb(177,177,177)"/>
<rect x="29.10" y="368.50" width="2.28" height="14.30" fill="rgb(76,76,76)"/>
<rect x="31.39" y="368.50" width="0.50" height="14.30" fill="rgb(123,123,123)"/>
<rect x="31.89" y="368.50" width="1.90" height="14.30" fill="rgb(63,63,63)"/>
<rect x="33.79" y="368.50" width="0.50" height="14.30" fill="rgb(243,243,243)"/>
<rect x="34.29" y="368.50" width="1.70" height="14.30" fill="rgb(42,42,42)"/>
<rect x="35.99" y="368.50" width="0.50" height="14.30" fill="rgb(213,213,213)"/>
<rect x="36.49" y="368.50" width="2.75" height="14.30" fill="rgb(61,61,61)"/>
<rect x="39.24" y="368.50" width="0.50" height="14.30" fill="rgb(140,140,140)"/>
<rect x="39.74" y="368.50" width="2.99" height="14.30" fill="rgb(70,70,70)"/>
<rect x="42.73" y="368.50" width="0.50" height="14.30" fill="rgb(203,203,203)"/>
<rect x="43.23" y="368.50" width="2.98" height="14.30" fill="rgb(34,34,34)"/>
<rect x="46.21" y="368.50" width="0.50" height="14.30" fill="rgb(144,144,144)"/>
<rect x="46.71" y="368.50" width="1.73" height="14.30" fill="rgb(36,36,36)"/>
<rect x="48.44" y="368.50" width="0.50" height="14.30" fill="rgb(211,211,211)"/>
<rect x="48.94" y="368.50" width="2.88" height="14.30" fill="rgb(35,35,35)"/>
<rect x="51.82" y="368.50" width="0.50" height="14.30" fill="rgb(160,160,160)"/>
<rect x="52.32" y="368.50" width="1.94" height="14.30" fill="rgb(33,33,33)"/>
<rect x="54.26" y="368.50" width="1.00" height="14.30" fill="rgb(228,228,228)"/>
<rect x="55.26" y="368.50" width="1.08" height="14.30" fill="rgb(88,88,88)"/>
<rect x="56.34" y="368.50" width="0.73" height="14.30" fill="rgb(193,193,193)"/>
<rect x="57.07" y="368.50" width="1.13" height="14.30" fill="rgb(74,74,74)"/>
<rect x="58.20" y="368.50" width="0.61" height="14.30" fill="rgb(135,135,135)"/>
<rect x="58.81" y="368.50" width="1.49" height="14.30" fill="rgb(98,98,98)"/>
<rect x="60.30" y="368.50" width="0.72" height="14.30" fill="rgb(194,194,194)"/>
<rect x="61.02" y="368.50" width="1.17" height="14.30" fill="rgb(71,71,71)"/>
<rect x="62.18" y="368.50" width="0.79" height="14.30" fill="rgb(155,155,155)"/>
<rect x="62.97" y="368.50" width="1.66" height="14.30" fill="rgb(32,32,32)"/>
<rect x="64.64" y="368.50" width="0.96" height="14.30" fill="rgb(202,202,202)"/>
<rect x="65.60" y="368.50" width="1.54" height="14.30" fill="rgb(33,33,33)"/>
<rect x="67.14" y="368.50" width="1.43" height="14.30" fill="rgb(196,196,196)"/>
<rect x="68.57" y="368.50" width="1.01" height="14.30" fill="rgb(30,30,30)"/>
<rect x="69.58" y="368.50" width="1.53" height="14.30" fill="rgb(131,131,131)"/>
<rect x="71.11" y="368.50" width="1.30" height="14.30" fill="rgb(95,95,95)"/>
<rect x="72.41" y="368.50" width="1.43" height="14.30" fill="rgb(196,196,196)"/>
<rect x="73.84" y="368.50" width="1.58" height="14.30" fill="rgb(50,50,50)"/>
<rect x="75.43" y="368.50" width="0.84" height="14.30" fill="rgb(183,183,183)"/>
<rect x="76.27" y="368.50" width="1.56" height="14.30" fill="rgb(40,40,40)"/>
<rect x="77.84" y="368.50" width="1.85" height="14.30" fill="rgb(210,210,210)"/>
<rect x="79.68" y="368.50" width="1.16" height="14.30" fill="rgb(67,67,67)"/>
<rect x="80.85" y="368.50" width="1.05" height="14.30" fill="rgb(229,229,229)"/>
<rect x="81.90" y="368.50" width="1.64" height="14.30" fill="rgb(89,89,89)"/>
<rect x="83.55" y="368.50" width="2.36" height="14.30" fill="rgb(230,230,230)"/>
<rect x="85.91" y="368.50" width="1.54" height="14.30" fill="rgb(69,69,69)"/>
<rect x="87.44" y="368.50" width="1.65" height="14.30" fill="rgb(197,197,197)"/>
<rect x="89.09" y="368.50" width="0.82" height="14.30" fill="rgb(32,32,32)"/>
<rect x="89.91" y="368.50" width="0.75" height="14.30" fill="rgb(247,247,247)"/>
<rect x="90.67" y="368.50" width="1.28" height="14.30" fill="rgb(11,11,11)"/>
<rect x="91.94" y="368.50" width="2.30" height="14.30" fill="rgb(238,238,238)"/>
<rect x="94.24" y="368.50" width="0.75" height="14.30" fill="rgb(92,92,92)"/>
<rect x="94.99" y="368.50" width="1.02" height="14.30" fill="rgb(126,126,126)"/>
<rect x="96.01" y="368.50" width="1.05" height="14.30" fill="rgb(27,27,27)"/>
<rect x="97.06" y="368.50" width="2.06" height="14.30" fill="rgb(167,167,167)"/>
<rect x="99.12" y="368.50" width="1.52" height="14.30" fill="rgb(10,10,10)"/>
<rect x="100.65" y="368.50" width="2.47" height="14.30" fill="rgb(231,231,231)"/>
<rect x="103.12" y="368.50" width="0.75" height="14.30" fill="rgb(39,39,39)"/>
<rect x="103.87" y="368.50" width="3.19" height="14.30" fill="rgb(226,226,226)"/>
<rect x="107.06" y="368.50" width="1.67" height="14.30" fill="rgb(86,86,86)"/>
<rect x="108.73" y="368.50" width="1.30" height="14.30" fill="rgb(233,233,233)"/>
<rect x="110.03" y="368.50" width="1.29" height="14.30" fill="rgb(42,42,42)"/>
<rect x="111.32" y="368.50" width="1.72" height="14.30" fill="rgb(242,242,242)"/>
<rect x="113.04" y="368.50" width="1.50" height="14.30" fill="rgb(61,61,61)"/>
<rect x="114.54" y="368.50" width="1.26" height="14.30" fill="rgb(143,143,143)"/>
<rect x="115.80" y="368.50" width="1.32" height="14.30" fill="rgb(48,48,48)"/>
<rect x="117.13" y="368.50" width="2.37" height="14.30" fill="rgb(242,242,242)"/>
<rect x="119.50" y="368.50" width="0.72" height="14.30" fill="rgb(29,29,29)"/>
<rect x="120.22" y="368.50" width="1.78" height="14.30" fill="rgb(149,149,149)"/>
<defs><linearGradient id="cb3" x1="0" y1="0" x2="1" y2="0"><stop offset="0" stop-color="#c84452"/><stop offset="0.3" stop-color="#cc5262"/><stop offset="0.36" stop-color="#d892a2"/><stop offset="0.46" stop-color="#e0c8d6"/><stop offset="0.56" stop-color="#dcd8ea"/><stop offset="0.65" stop-color="#b8b8de"/><stop offset="0.72" stop-color="#8686c6"/><stop offset="0.78" stop-color="#6464b0"/><stop offset="1" stop-color="#5656a8"/></linearGradient></defs>
<rect x="24.00" y="382.80" width="98.00" height="3.70" fill="url(#cb3)"/>
<text x="25.60" y="392.10" font-size="4.4" text-anchor="start" font-weight="bold" fill="#1e2a24" textLength="15.6" lengthAdjust="spacingAndGlyphs" stroke="#1e2a24" stroke-width="0.15">wildtype</text>
<path d="M73.73,386.50 L73.73,416.00" stroke="#e4e4e4" stroke-width="0.6"/>
<path d="M24.00,399.60 L24.00,396.00 C28.50,397.60 35.50,398.10 48.50,398.50 L72.75,399.10 L108.00,400.00 C117.00,400.40 120.50,401.10 122.00,402.50 L122.00,399.60 Z" fill="#c4c4c4" stroke="#a8a8a8" stroke-width="0.35"/>
<text x="73.73" y="403.00" font-size="2.6" text-anchor="middle" fill="#333" >Zero cross at 6069</text>
<text x="120.50" y="412.90" font-size="4.0" text-anchor="end" font-weight="bold" fill="#c0343a" >Dnmt3b-knockin</text>
<path d="M22.50,364.75 L127.50,364.75" stroke="#222" stroke-width="1.1"/>
<polyline points="22.70,351.75 24.30,346.90 26.50,341.50 28.60,336.70 30.80,332.90 33.50,330.80 36.10,328.10 39.40,325.90 42.60,325.40 48.00,325.40 52.30,326.20 56.60,328.60 62.00,331.80 67.40,335.60 71.70,338.80 77.50,342.50 90.00,350.60 102.50,356.25 112.50,361.25 117.50,364.40 121.00,365.30 122.00,365.00" fill="none" stroke="#94b044" stroke-width="1.15" stroke-linejoin="round"/>
<text x="126.90" y="328.55" font-size="4.0" text-anchor="end" fill="#111" stroke="#111" stroke-width="0.18">p-value &lt; 0.001</text>
<text x="126.90" y="332.80" font-size="4.0" text-anchor="end" fill="#111" stroke="#111" stroke-width="0.18">FDR &lt; 0.001</text>
<rect x="22.50" y="323.50" width="105.00" height="92.50" fill="none" stroke="#333" stroke-width="1.1"/>
<text x="213.45" y="319.00" font-size="6.7" text-anchor="middle" font-weight="bold" fill="#000" textLength="37.5" lengthAdjust="spacingAndGlyphs">LSC DOWN</text>
<text transform="translate(143.80,348.40) rotate(-90)" font-size="4.8" font-weight="bold" text-anchor="middle" fill="#222">Enrichment Score</text>
<path d="M156.20,331.50 L158.10,331.50" stroke="#222" stroke-width="0.7"/>
<text x="155.90" y="333.00" font-size="4.3" text-anchor="end" font-weight="bold" fill="#222" >0.2</text>
<path d="M156.20,340.40 L158.10,340.40" stroke="#222" stroke-width="0.7"/>
<text x="155.90" y="341.90" font-size="4.3" text-anchor="end" font-weight="bold" fill="#222" >0.0</text>
<path d="M156.20,349.75 L158.10,349.75" stroke="#222" stroke-width="0.7"/>
<text x="155.90" y="351.25" font-size="4.3" text-anchor="end" font-weight="bold" fill="#222" >&#8722;0.2</text>
<path d="M156.20,359.10 L158.10,359.10" stroke="#222" stroke-width="0.7"/>
<text x="155.90" y="360.60" font-size="4.3" text-anchor="end" font-weight="bold" fill="#222" >&#8722;0.4</text>
<path d="M156.20,368.10 L158.10,368.10" stroke="#222" stroke-width="0.7"/>
<text x="155.90" y="369.60" font-size="4.3" text-anchor="end" font-weight="bold" fill="#222" >&#8722;0.6</text>
<path d="M156.20,326.85 L158.10,326.85" stroke="#222" stroke-width="0.7"/>
<path d="M156.20,335.95 L158.10,335.95" stroke="#222" stroke-width="0.7"/>
<path d="M156.20,345.10 L158.10,345.10" stroke="#222" stroke-width="0.7"/>
<path d="M156.20,354.40 L158.10,354.40" stroke="#222" stroke-width="0.7"/>
<path d="M156.20,363.60 L158.10,363.60" stroke="#222" stroke-width="0.7"/>
<rect x="159.60" y="369.75" width="98.50" height="14.75" fill="#c0c0c0"/>
<rect x="159.60" y="369.75" width="0.94" height="14.75" fill="rgb(19,19,19)"/>
<rect x="160.54" y="369.75" width="1.14" height="14.75" fill="rgb(127,127,127)"/>
<rect x="161.67" y="369.75" width="0.92" height="14.75" fill="rgb(58,58,58)"/>
<rect x="162.60" y="369.75" width="0.95" height="14.75" fill="rgb(197,197,197)"/>
<rect x="163.55" y="369.75" width="1.50" height="14.75" fill="rgb(27,27,27)"/>
<rect x="165.05" y="369.75" width="1.00" height="14.75" fill="rgb(151,151,151)"/>
<rect x="166.05" y="369.75" width="1.54" height="14.75" fill="rgb(40,40,40)"/>
<rect x="167.60" y="369.75" width="1.13" height="14.75" fill="rgb(199,199,199)"/>
<rect x="168.72" y="369.75" width="0.71" height="14.75" fill="rgb(36,36,36)"/>
<rect x="169.43" y="369.75" width="1.62" height="14.75" fill="rgb(196,196,196)"/>
<rect x="171.05" y="369.75" width="1.13" height="14.75" fill="rgb(24,24,24)"/>
<rect x="172.18" y="369.75" width="1.00" height="14.75" fill="rgb(191,191,191)"/>
<rect x="173.18" y="369.75" width="1.22" height="14.75" fill="rgb(68,68,68)"/>
<rect x="174.39" y="369.75" width="1.61" height="14.75" fill="rgb(247,247,247)"/>
<rect x="176.01" y="369.75" width="0.98" height="14.75" fill="rgb(42,42,42)"/>
<rect x="176.98" y="369.75" width="1.69" height="14.75" fill="rgb(136,136,136)"/>
<rect x="178.67" y="369.75" width="1.41" height="14.75" fill="rgb(34,34,34)"/>
<rect x="180.08" y="369.75" width="1.43" height="14.75" fill="rgb(163,163,163)"/>
<rect x="181.51" y="369.75" width="0.74" height="14.75" fill="rgb(72,72,72)"/>
<rect x="182.25" y="369.75" width="1.92" height="14.75" fill="rgb(223,223,223)"/>
<rect x="184.17" y="369.75" width="1.02" height="14.75" fill="rgb(23,23,23)"/>
<rect x="185.19" y="369.75" width="1.54" height="14.75" fill="rgb(199,199,199)"/>
<rect x="186.72" y="369.75" width="1.59" height="14.75" fill="rgb(36,36,36)"/>
<rect x="188.32" y="369.75" width="0.91" height="14.75" fill="rgb(234,234,234)"/>
<rect x="189.23" y="369.75" width="0.87" height="14.75" fill="rgb(80,80,80)"/>
<rect x="190.10" y="369.75" width="1.09" height="14.75" fill="rgb(164,164,164)"/>
<rect x="191.18" y="369.75" width="0.81" height="14.75" fill="rgb(15,15,15)"/>
<rect x="192.00" y="369.75" width="1.67" height="14.75" fill="rgb(203,203,203)"/>
<rect x="193.67" y="369.75" width="1.02" height="14.75" fill="rgb(13,13,13)"/>
<rect x="194.69" y="369.75" width="1.82" height="14.75" fill="rgb(204,204,204)"/>
<rect x="196.51" y="369.75" width="0.94" height="14.75" fill="rgb(46,46,46)"/>
<rect x="197.45" y="369.75" width="0.58" height="14.75" fill="rgb(245,245,245)"/>
<rect x="198.03" y="369.75" width="0.89" height="14.75" fill="rgb(13,13,13)"/>
<rect x="198.92" y="369.75" width="0.92" height="14.75" fill="rgb(204,204,204)"/>
<rect x="199.83" y="369.75" width="0.75" height="14.75" fill="rgb(93,93,93)"/>
<rect x="200.58" y="369.75" width="1.40" height="14.75" fill="rgb(169,169,169)"/>
<rect x="201.99" y="369.75" width="1.19" height="14.75" fill="rgb(18,18,18)"/>
<rect x="203.18" y="369.75" width="0.85" height="14.75" fill="rgb(233,233,233)"/>
<rect x="204.03" y="369.75" width="1.50" height="14.75" fill="rgb(67,67,67)"/>
<rect x="205.53" y="369.75" width="1.79" height="14.75" fill="rgb(231,231,231)"/>
<rect x="207.32" y="369.75" width="1.66" height="14.75" fill="rgb(16,16,16)"/>
<rect x="208.98" y="369.75" width="2.03" height="14.75" fill="rgb(190,190,190)"/>
<rect x="211.01" y="369.75" width="1.47" height="14.75" fill="rgb(34,34,34)"/>
<rect x="212.48" y="369.75" width="1.86" height="14.75" fill="rgb(236,236,236)"/>
<rect x="214.33" y="369.75" width="1.63" height="14.75" fill="rgb(29,29,29)"/>
<rect x="215.96" y="369.75" width="0.53" height="14.75" fill="rgb(227,227,227)"/>
<rect x="216.49" y="369.75" width="1.58" height="14.75" fill="rgb(59,59,59)"/>
<rect x="218.07" y="369.75" width="1.89" height="14.75" fill="rgb(247,247,247)"/>
<rect x="219.96" y="369.75" width="1.62" height="14.75" fill="rgb(49,49,49)"/>
<rect x="221.57" y="369.75" width="0.64" height="14.75" fill="rgb(165,165,165)"/>
<rect x="222.21" y="369.75" width="0.74" height="14.75" fill="rgb(17,17,17)"/>
<rect x="222.96" y="369.75" width="1.89" height="14.75" fill="rgb(226,226,226)"/>
<rect x="224.85" y="369.75" width="1.08" height="14.75" fill="rgb(80,80,80)"/>
<rect x="225.93" y="369.75" width="1.01" height="14.75" fill="rgb(131,131,131)"/>
<rect x="226.93" y="369.75" width="1.62" height="14.75" fill="rgb(81,81,81)"/>
<rect x="228.55" y="369.75" width="1.09" height="14.75" fill="rgb(178,178,178)"/>
<rect x="229.64" y="369.75" width="1.34" height="14.75" fill="rgb(93,93,93)"/>
<rect x="230.98" y="369.75" width="1.27" height="14.75" fill="rgb(185,185,185)"/>
<rect x="232.24" y="369.75" width="1.03" height="14.75" fill="rgb(87,87,87)"/>
<rect x="233.27" y="369.75" width="0.92" height="14.75" fill="rgb(168,168,168)"/>
<rect x="234.19" y="369.75" width="1.24" height="14.75" fill="rgb(53,53,53)"/>
<rect x="235.44" y="369.75" width="1.64" height="14.75" fill="rgb(198,198,198)"/>
<rect x="237.08" y="369.75" width="0.93" height="14.75" fill="rgb(26,26,26)"/>
<rect x="238.00" y="369.75" width="1.87" height="14.75" fill="rgb(238,238,238)"/>
<rect x="239.87" y="369.75" width="1.48" height="14.75" fill="rgb(61,61,61)"/>
<rect x="241.35" y="369.75" width="1.98" height="14.75" fill="rgb(211,211,211)"/>
<rect x="243.34" y="369.75" width="1.47" height="14.75" fill="rgb(42,42,42)"/>
<rect x="244.81" y="369.75" width="1.55" height="14.75" fill="rgb(163,163,163)"/>
<rect x="246.36" y="369.75" width="0.99" height="14.75" fill="rgb(94,94,94)"/>
<rect x="247.35" y="369.75" width="0.83" height="14.75" fill="rgb(190,190,190)"/>
<rect x="248.17" y="369.75" width="1.03" height="14.75" fill="rgb(43,43,43)"/>
<rect x="249.20" y="369.75" width="0.79" height="14.75" fill="rgb(164,164,164)"/>
<rect x="250.00" y="369.75" width="1.50" height="14.75" fill="rgb(82,82,82)"/>
<rect x="251.50" y="369.75" width="2.01" height="14.75" fill="rgb(127,127,127)"/>
<rect x="253.50" y="369.75" width="1.46" height="14.75" fill="rgb(97,97,97)"/>
<rect x="254.96" y="369.75" width="0.70" height="14.75" fill="rgb(216,216,216)"/>
<rect x="255.67" y="369.75" width="1.55" height="14.75" fill="rgb(71,71,71)"/>
<rect x="257.22" y="369.75" width="0.88" height="14.75" fill="rgb(197,197,197)"/>
<defs><linearGradient id="cb4" x1="0" y1="0" x2="1" y2="0"><stop offset="0" stop-color="#c84452"/><stop offset="0.3" stop-color="#cc5262"/><stop offset="0.36" stop-color="#d892a2"/><stop offset="0.46" stop-color="#e0c8d6"/><stop offset="0.56" stop-color="#dcd8ea"/><stop offset="0.65" stop-color="#b8b8de"/><stop offset="0.72" stop-color="#8686c6"/><stop offset="0.78" stop-color="#6464b0"/><stop offset="1" stop-color="#5656a8"/></linearGradient></defs>
<rect x="159.60" y="384.50" width="98.50" height="3.80" fill="url(#cb4)"/>
<text x="160.60" y="394.00" font-size="4.4" text-anchor="start" font-weight="bold" fill="#1e2a24" textLength="15.6" lengthAdjust="spacingAndGlyphs" stroke="#1e2a24" stroke-width="0.15">wildtype</text>
<path d="M209.59,388.30 L209.59,417.25" stroke="#e4e4e4" stroke-width="0.6"/>
<path d="M159.60,401.60 L159.60,398.80 C164.10,400.40 171.10,400.10 184.10,400.50 L208.60,401.10 L244.10,402.00 C253.10,402.40 256.60,403.10 258.10,404.50 L258.10,401.60 Z" fill="#c4c4c4" stroke="#a8a8a8" stroke-width="0.35"/>
<text x="209.59" y="405.00" font-size="2.6" text-anchor="middle" fill="#333" >Zero cross at 6069</text>
<text x="256.60" y="413.90" font-size="4.0" text-anchor="end" font-weight="bold" fill="#c0343a" >Dnmt3b-knockin</text>
<path d="M158.10,340.40 L263.10,340.40" stroke="#222" stroke-width="1.1"/>
<polyline points="158.60,331.50 159.80,327.50 161.50,326.50 164.10,325.60 165.80,326.50 167.90,327.50 170.60,328.60 172.80,328.40 174.90,330.20 177.10,328.40 179.80,329.70 183.00,331.30 186.20,332.40 189.40,334.50 193.80,337.80 198.10,341.00 203.40,345.80 211.25,350.60 217.50,355.00 223.75,358.75 230.00,362.50 236.25,365.00 242.50,366.50 246.25,366.25 251.25,364.40 253.75,365.00 256.25,361.90 257.25,355.00 257.75,346.25 258.10,340.60" fill="none" stroke="#94b044" stroke-width="1.15" stroke-linejoin="round"/>
<text x="262.10" y="327.80" font-size="4.0" text-anchor="end" fill="#111" stroke="#111" stroke-width="0.18">p-value &lt; 0.001</text>
<text x="262.10" y="331.90" font-size="4.0" text-anchor="end" fill="#111" stroke="#111" stroke-width="0.18">FDR &lt; 0.022</text>
<rect x="158.10" y="322.75" width="105.00" height="94.50" fill="none" stroke="#333" stroke-width="1.1"/>
<text x="76.15" y="437.30" font-size="6.7" text-anchor="middle" font-weight="bold" fill="#000" textLength="22.1" lengthAdjust="spacingAndGlyphs">LIC UP</text>
<text transform="translate(10.90,460.80) rotate(-90)" font-size="4.8" font-weight="bold" text-anchor="middle" fill="#222">Enrichment Score</text>
<path d="M21.00,442.50 L22.90,442.50" stroke="#222" stroke-width="0.7"/>
<text x="20.70" y="444.00" font-size="4.3" text-anchor="end" font-weight="bold" fill="#222" >0.5</text>
<path d="M21.00,450.00 L22.90,450.00" stroke="#222" stroke-width="0.7"/>
<text x="20.70" y="451.50" font-size="4.3" text-anchor="end" font-weight="bold" fill="#222" >0.4</text>
<path d="M21.00,457.30 L22.90,457.30" stroke="#222" stroke-width="0.7"/>
<text x="20.70" y="458.80" font-size="4.3" text-anchor="end" font-weight="bold" fill="#222" >0.3</text>
<path d="M21.00,464.75 L22.90,464.75" stroke="#222" stroke-width="0.7"/>
<text x="20.70" y="466.25" font-size="4.3" text-anchor="end" font-weight="bold" fill="#222" >0.2</text>
<path d="M21.00,472.40 L22.90,472.40" stroke="#222" stroke-width="0.7"/>
<text x="20.70" y="473.90" font-size="4.3" text-anchor="end" font-weight="bold" fill="#222" >0.1</text>
<path d="M21.00,479.90 L22.90,479.90" stroke="#222" stroke-width="0.7"/>
<text x="20.70" y="481.40" font-size="4.3" text-anchor="end" font-weight="bold" fill="#222" >0.0</text>
<rect x="24.40" y="489.60" width="99.10" height="14.60" fill="#c0c0c0"/>
<rect x="24.40" y="489.60" width="2.61" height="14.60" fill="rgb(81,81,81)"/>
<rect x="27.01" y="489.60" width="0.50" height="14.60" fill="rgb(201,201,201)"/>
<rect x="27.51" y="489.60" width="1.35" height="14.60" fill="rgb(91,91,91)"/>
<rect x="28.86" y="489.60" width="0.56" height="14.60" fill="rgb(143,143,143)"/>
<rect x="29.42" y="489.60" width="1.43" height="14.60" fill="rgb(46,46,46)"/>
<rect x="30.85" y="489.60" width="0.66" height="14.60" fill="rgb(226,226,226)"/>
<rect x="31.51" y="489.60" width="0.83" height="14.60" fill="rgb(10,10,10)"/>
<rect x="32.33" y="489.60" width="1.56" height="14.60" fill="rgb(224,224,224)"/>
<rect x="33.90" y="489.60" width="1.01" height="14.60" fill="rgb(27,27,27)"/>
<rect x="34.91" y="489.60" width="1.62" height="14.60" fill="rgb(229,229,229)"/>
<rect x="36.53" y="489.60" width="1.00" height="14.60" fill="rgb(42,42,42)"/>
<rect x="37.53" y="489.60" width="0.69" height="14.60" fill="rgb(127,127,127)"/>
<rect x="38.22" y="489.60" width="1.30" height="14.60" fill="rgb(73,73,73)"/>
<rect x="39.51" y="489.60" width="0.57" height="14.60" fill="rgb(229,229,229)"/>
<rect x="40.08" y="489.60" width="1.40" height="14.60" fill="rgb(15,15,15)"/>
<rect x="41.48" y="489.60" width="1.90" height="14.60" fill="rgb(225,225,225)"/>
<rect x="43.38" y="489.60" width="1.07" height="14.60" fill="rgb(62,62,62)"/>
<rect x="44.45" y="489.60" width="0.51" height="14.60" fill="rgb(168,168,168)"/>
<rect x="44.96" y="489.60" width="1.63" height="14.60" fill="rgb(94,94,94)"/>
<rect x="46.59" y="489.60" width="1.05" height="14.60" fill="rgb(217,217,217)"/>
<rect x="47.64" y="489.60" width="1.56" height="14.60" fill="rgb(13,13,13)"/>
<rect x="49.20" y="489.60" width="2.04" height="14.60" fill="rgb(211,211,211)"/>
<rect x="51.23" y="489.60" width="0.98" height="14.60" fill="rgb(73,73,73)"/>
<rect x="52.21" y="489.60" width="0.70" height="14.60" fill="rgb(217,217,217)"/>
<rect x="52.91" y="489.60" width="1.70" height="14.60" fill="rgb(24,24,24)"/>
<rect x="54.61" y="489.60" width="0.65" height="14.60" fill="rgb(204,204,204)"/>
<rect x="55.26" y="489.60" width="1.53" height="14.60" fill="rgb(51,51,51)"/>
<rect x="56.78" y="489.60" width="1.32" height="14.60" fill="rgb(201,201,201)"/>
<rect x="58.10" y="489.60" width="0.83" height="14.60" fill="rgb(75,75,75)"/>
<rect x="58.93" y="489.60" width="2.30" height="14.60" fill="rgb(195,195,195)"/>
<rect x="61.23" y="489.60" width="0.76" height="14.60" fill="rgb(47,47,47)"/>
<rect x="61.99" y="489.60" width="0.88" height="14.60" fill="rgb(238,238,238)"/>
<rect x="62.87" y="489.60" width="1.39" height="14.60" fill="rgb(38,38,38)"/>
<rect x="64.26" y="489.60" width="1.16" height="14.60" fill="rgb(200,200,200)"/>
<rect x="65.43" y="489.60" width="1.33" height="14.60" fill="rgb(54,54,54)"/>
<rect x="66.75" y="489.60" width="1.33" height="14.60" fill="rgb(217,217,217)"/>
<rect x="68.08" y="489.60" width="0.76" height="14.60" fill="rgb(81,81,81)"/>
<rect x="68.84" y="489.60" width="1.40" height="14.60" fill="rgb(200,200,200)"/>
<rect x="70.24" y="489.60" width="1.54" height="14.60" fill="rgb(33,33,33)"/>
<rect x="71.77" y="489.60" width="2.76" height="14.60" fill="rgb(155,155,155)"/>
<rect x="74.53" y="489.60" width="1.17" height="14.60" fill="rgb(79,79,79)"/>
<rect x="75.71" y="489.60" width="1.46" height="14.60" fill="rgb(207,207,207)"/>
<rect x="77.17" y="489.60" width="1.05" height="14.60" fill="rgb(67,67,67)"/>
<rect x="78.21" y="489.60" width="2.44" height="14.60" fill="rgb(246,246,246)"/>
<rect x="80.66" y="489.60" width="1.68" height="14.60" fill="rgb(96,96,96)"/>
<rect x="82.33" y="489.60" width="2.05" height="14.60" fill="rgb(248,248,248)"/>
<rect x="84.38" y="489.60" width="0.98" height="14.60" fill="rgb(17,17,17)"/>
<rect x="85.36" y="489.60" width="2.51" height="14.60" fill="rgb(237,237,237)"/>
<rect x="87.87" y="489.60" width="1.00" height="14.60" fill="rgb(59,59,59)"/>
<rect x="88.87" y="489.60" width="3.14" height="14.60" fill="rgb(204,204,204)"/>
<rect x="92.02" y="489.60" width="0.92" height="14.60" fill="rgb(71,71,71)"/>
<rect x="92.94" y="489.60" width="2.67" height="14.60" fill="rgb(181,181,181)"/>
<rect x="95.60" y="489.60" width="0.81" height="14.60" fill="rgb(97,97,97)"/>
<rect x="96.41" y="489.60" width="2.36" height="14.60" fill="rgb(147,147,147)"/>
<rect x="98.78" y="489.60" width="1.29" height="14.60" fill="rgb(31,31,31)"/>
<rect x="100.07" y="489.60" width="3.77" height="14.60" fill="rgb(120,120,120)"/>
<rect x="103.83" y="489.60" width="1.39" height="14.60" fill="rgb(59,59,59)"/>
<rect x="105.22" y="489.60" width="4.25" height="14.60" fill="rgb(200,200,200)"/>
<rect x="109.48" y="489.60" width="1.66" height="14.60" fill="rgb(83,83,83)"/>
<rect x="111.13" y="489.60" width="2.53" height="14.60" fill="rgb(228,228,228)"/>
<rect x="113.66" y="489.60" width="1.26" height="14.60" fill="rgb(96,96,96)"/>
<rect x="114.93" y="489.60" width="4.37" height="14.60" fill="rgb(150,150,150)"/>
<rect x="119.30" y="489.60" width="1.03" height="14.60" fill="rgb(92,92,92)"/>
<rect x="120.32" y="489.60" width="2.93" height="14.60" fill="rgb(199,199,199)"/>
<rect x="123.26" y="489.60" width="0.24" height="14.60" fill="rgb(53,53,53)"/>
<defs><linearGradient id="cb5" x1="0" y1="0" x2="1" y2="0"><stop offset="0" stop-color="#c84452"/><stop offset="0.3" stop-color="#cc5262"/><stop offset="0.36" stop-color="#d892a2"/><stop offset="0.46" stop-color="#e0c8d6"/><stop offset="0.56" stop-color="#dcd8ea"/><stop offset="0.65" stop-color="#b8b8de"/><stop offset="0.72" stop-color="#8686c6"/><stop offset="0.78" stop-color="#6464b0"/><stop offset="1" stop-color="#5656a8"/></linearGradient></defs>
<rect x="24.40" y="504.20" width="99.10" height="3.80" fill="url(#cb5)"/>
<text x="25.00" y="513.10" font-size="4.4" text-anchor="start" font-weight="bold" fill="#1e2a24" textLength="15.6" lengthAdjust="spacingAndGlyphs" stroke="#1e2a24" stroke-width="0.15">wildtype</text>
<path d="M74.70,508.00 L74.70,531.00" stroke="#e4e4e4" stroke-width="0.6"/>
<path d="M24.40,522.30 L24.40,519.00 C28.90,520.60 35.90,520.80 48.90,521.20 L73.70,521.80 L109.50,522.70 C118.50,523.10 122.00,523.80 123.50,525.00 L123.50,522.30 Z" fill="#c4c4c4" stroke="#a8a8a8" stroke-width="0.35"/>
<text x="74.70" y="525.00" font-size="2.6" text-anchor="middle" fill="#333" >Zero cross at 6069</text>
<text x="122.00" y="528.90" font-size="4.0" text-anchor="end" font-weight="bold" fill="#c0343a" >Dnmt3b-knockin</text>
<path d="M22.90,480.10 L128.10,480.10" stroke="#222" stroke-width="1.1"/>
<polyline points="23.00,462.80 23.80,457.40 25.40,453.10 27.50,448.80 29.70,445.50 32.90,444.70 37.20,444.20 41.50,445.00 45.80,446.80 50.10,448.80 53.40,449.80 58.80,453.10 65.20,457.40 70.60,461.10 77.50,465.00 90.00,473.10 101.25,480.00 107.50,483.75 112.50,486.00 115.00,486.25 117.50,485.00 120.00,485.60 122.50,484.40 123.50,481.25" fill="none" stroke="#94b044" stroke-width="1.15" stroke-linejoin="round"/>
<text x="127.10" y="445.70" font-size="4.0" text-anchor="end" fill="#111" stroke="#111" stroke-width="0.18">p-value &lt; 0.001</text>
<text x="127.10" y="450.05" font-size="4.0" text-anchor="end" fill="#111" stroke="#111" stroke-width="0.18">FDR &lt; 0.001</text>
<rect x="22.90" y="441.25" width="105.20" height="89.75" fill="none" stroke="#333" stroke-width="1.1"/>
<text x="211.90" y="437.50" font-size="6.7" text-anchor="middle" font-weight="bold" fill="#000" textLength="36.15" lengthAdjust="spacingAndGlyphs">LIC DOWN</text>
<text transform="translate(143.50,463.00) rotate(-90)" font-size="4.8" font-weight="bold" text-anchor="middle" fill="#222">Enrichment Score</text>
<path d="M156.40,444.75 L158.30,444.75" stroke="#222" stroke-width="0.7"/>
<text x="155.40" y="446.25" font-size="4.3" text-anchor="end" font-weight="bold" fill="#222" >0.1</text>
<path d="M156.40,452.10 L158.30,452.10" stroke="#222" stroke-width="0.7"/>
<text x="155.40" y="453.60" font-size="4.3" text-anchor="end" font-weight="bold" fill="#222" >0.0</text>
<path d="M156.40,459.75 L158.30,459.75" stroke="#222" stroke-width="0.7"/>
<text x="155.40" y="461.25" font-size="4.3" text-anchor="end" font-weight="bold" fill="#222" >&#8722;0.1</text>
<path d="M156.40,467.25 L158.30,467.25" stroke="#222" stroke-width="0.7"/>
<text x="155.40" y="468.75" font-size="4.3" text-anchor="end" font-weight="bold" fill="#222" >&#8722;0.2</text>
<path d="M156.40,474.60 L158.30,474.60" stroke="#222" stroke-width="0.7"/>
<text x="155.40" y="476.10" font-size="4.3" text-anchor="end" font-weight="bold" fill="#222" >&#8722;0.3</text>
<path d="M156.40,481.80 L158.30,481.80" stroke="#222" stroke-width="0.7"/>
<text x="155.40" y="483.30" font-size="4.3" text-anchor="end" font-weight="bold" fill="#222" >&#8722;0.4</text>
<rect x="159.80" y="486.30" width="98.70" height="14.10" fill="#c0c0c0"/>
<rect x="159.80" y="486.30" width="1.49" height="14.10" fill="rgb(83,83,83)"/>
<rect x="161.29" y="486.30" width="1.43" height="14.10" fill="rgb(213,213,213)"/>
<rect x="162.73" y="486.30" width="1.02" height="14.10" fill="rgb(11,11,11)"/>
<rect x="163.75" y="486.30" width="1.43" height="14.10" fill="rgb(129,129,129)"/>
<rect x="165.17" y="486.30" width="0.89" height="14.10" fill="rgb(59,59,59)"/>
<rect x="166.07" y="486.30" width="1.96" height="14.10" fill="rgb(213,213,213)"/>
<rect x="168.03" y="486.30" width="1.69" height="14.10" fill="rgb(42,42,42)"/>
<rect x="169.72" y="486.30" width="1.27" height="14.10" fill="rgb(216,216,216)"/>
<rect x="170.99" y="486.30" width="0.80" height="14.10" fill="rgb(14,14,14)"/>
<rect x="171.78" y="486.30" width="2.09" height="14.10" fill="rgb(201,201,201)"/>
<rect x="173.88" y="486.30" width="1.21" height="14.10" fill="rgb(68,68,68)"/>
<rect x="175.09" y="486.30" width="1.73" height="14.10" fill="rgb(234,234,234)"/>
<rect x="176.82" y="486.30" width="1.00" height="14.10" fill="rgb(63,63,63)"/>
<rect x="177.82" y="486.30" width="0.70" height="14.10" fill="rgb(194,194,194)"/>
<rect x="178.52" y="486.30" width="1.42" height="14.10" fill="rgb(44,44,44)"/>
<rect x="179.94" y="486.30" width="0.92" height="14.10" fill="rgb(197,197,197)"/>
<rect x="180.86" y="486.30" width="1.48" height="14.10" fill="rgb(11,11,11)"/>
<rect x="182.34" y="486.30" width="1.09" height="14.10" fill="rgb(234,234,234)"/>
<rect x="183.43" y="486.30" width="0.99" height="14.10" fill="rgb(71,71,71)"/>
<rect x="184.42" y="486.30" width="1.34" height="14.10" fill="rgb(227,227,227)"/>
<rect x="185.75" y="486.30" width="0.95" height="14.10" fill="rgb(98,98,98)"/>
<rect x="186.70" y="486.30" width="1.98" height="14.10" fill="rgb(153,153,153)"/>
<rect x="188.67" y="486.30" width="1.22" height="14.10" fill="rgb(52,52,52)"/>
<rect x="189.89" y="486.30" width="1.66" height="14.10" fill="rgb(231,231,231)"/>
<rect x="191.55" y="486.30" width="1.42" height="14.10" fill="rgb(96,96,96)"/>
<rect x="192.97" y="486.30" width="0.56" height="14.10" fill="rgb(229,229,229)"/>
<rect x="193.53" y="486.30" width="1.03" height="14.10" fill="rgb(56,56,56)"/>
<rect x="194.55" y="486.30" width="2.07" height="14.10" fill="rgb(240,240,240)"/>
<rect x="196.62" y="486.30" width="1.19" height="14.10" fill="rgb(74,74,74)"/>
<rect x="197.81" y="486.30" width="1.29" height="14.10" fill="rgb(229,229,229)"/>
<rect x="199.10" y="486.30" width="1.39" height="14.10" fill="rgb(33,33,33)"/>
<rect x="200.50" y="486.30" width="1.51" height="14.10" fill="rgb(168,168,168)"/>
<rect x="202.01" y="486.30" width="1.32" height="14.10" fill="rgb(96,96,96)"/>
<rect x="203.33" y="486.30" width="0.79" height="14.10" fill="rgb(234,234,234)"/>
<rect x="204.12" y="486.30" width="1.55" height="14.10" fill="rgb(15,15,15)"/>
<rect x="205.67" y="486.30" width="0.80" height="14.10" fill="rgb(244,244,244)"/>
<rect x="206.47" y="486.30" width="0.78" height="14.10" fill="rgb(30,30,30)"/>
<rect x="207.25" y="486.30" width="1.06" height="14.10" fill="rgb(168,168,168)"/>
<rect x="208.31" y="486.30" width="1.33" height="14.10" fill="rgb(18,18,18)"/>
<rect x="209.64" y="486.30" width="0.66" height="14.10" fill="rgb(180,180,180)"/>
<rect x="210.29" y="486.30" width="1.32" height="14.10" fill="rgb(93,93,93)"/>
<rect x="211.61" y="486.30" width="0.74" height="14.10" fill="rgb(241,241,241)"/>
<rect x="212.34" y="486.30" width="1.39" height="14.10" fill="rgb(81,81,81)"/>
<rect x="213.74" y="486.30" width="0.69" height="14.10" fill="rgb(244,244,244)"/>
<rect x="214.43" y="486.30" width="1.26" height="14.10" fill="rgb(52,52,52)"/>
<rect x="215.69" y="486.30" width="1.34" height="14.10" fill="rgb(161,161,161)"/>
<rect x="217.03" y="486.30" width="0.78" height="14.10" fill="rgb(87,87,87)"/>
<rect x="217.81" y="486.30" width="0.89" height="14.10" fill="rgb(168,168,168)"/>
<rect x="218.71" y="486.30" width="0.95" height="14.10" fill="rgb(64,64,64)"/>
<rect x="219.66" y="486.30" width="0.83" height="14.10" fill="rgb(193,193,193)"/>
<rect x="220.49" y="486.30" width="1.40" height="14.10" fill="rgb(40,40,40)"/>
<rect x="221.89" y="486.30" width="0.59" height="14.10" fill="rgb(236,236,236)"/>
<rect x="222.48" y="486.30" width="1.34" height="14.10" fill="rgb(21,21,21)"/>
<rect x="223.82" y="486.30" width="0.98" height="14.10" fill="rgb(168,168,168)"/>
<rect x="224.79" y="486.30" width="1.21" height="14.10" fill="rgb(86,86,86)"/>
<rect x="226.00" y="486.30" width="1.60" height="14.10" fill="rgb(191,191,191)"/>
<rect x="227.60" y="486.30" width="1.46" height="14.10" fill="rgb(99,99,99)"/>
<rect x="229.06" y="486.30" width="1.26" height="14.10" fill="rgb(244,244,244)"/>
<rect x="230.32" y="486.30" width="1.23" height="14.10" fill="rgb(10,10,10)"/>
<rect x="231.55" y="486.30" width="1.64" height="14.10" fill="rgb(194,194,194)"/>
<rect x="233.19" y="486.30" width="0.97" height="14.10" fill="rgb(26,26,26)"/>
<rect x="234.16" y="486.30" width="0.67" height="14.10" fill="rgb(225,225,225)"/>
<rect x="234.83" y="486.30" width="1.46" height="14.10" fill="rgb(20,20,20)"/>
<rect x="236.29" y="486.30" width="1.43" height="14.10" fill="rgb(238,238,238)"/>
<rect x="237.72" y="486.30" width="0.93" height="14.10" fill="rgb(60,60,60)"/>
<rect x="238.64" y="486.30" width="1.71" height="14.10" fill="rgb(181,181,181)"/>
<rect x="240.35" y="486.30" width="1.59" height="14.10" fill="rgb(49,49,49)"/>
<rect x="241.95" y="486.30" width="1.74" height="14.10" fill="rgb(225,225,225)"/>
<rect x="243.69" y="486.30" width="1.35" height="14.10" fill="rgb(35,35,35)"/>
<rect x="245.04" y="486.30" width="1.04" height="14.10" fill="rgb(198,198,198)"/>
<rect x="246.08" y="486.30" width="0.98" height="14.10" fill="rgb(11,11,11)"/>
<rect x="247.05" y="486.30" width="1.14" height="14.10" fill="rgb(223,223,223)"/>
<rect x="248.19" y="486.30" width="1.48" height="14.10" fill="rgb(18,18,18)"/>
<rect x="249.67" y="486.30" width="1.22" height="14.10" fill="rgb(121,121,121)"/>
<rect x="250.89" y="486.30" width="1.06" height="14.10" fill="rgb(72,72,72)"/>
<rect x="251.95" y="486.30" width="0.88" height="14.10" fill="rgb(202,202,202)"/>
<rect x="252.83" y="486.30" width="0.77" height="14.10" fill="rgb(10,10,10)"/>
<rect x="253.60" y="486.30" width="1.51" height="14.10" fill="rgb(228,228,228)"/>
<rect x="255.11" y="486.30" width="1.25" height="14.10" fill="rgb(31,31,31)"/>
<rect x="256.35" y="486.30" width="0.50" height="14.10" fill="rgb(208,208,208)"/>
<rect x="256.85" y="486.30" width="1.65" height="14.10" fill="rgb(12,12,12)"/>
<defs><linearGradient id="cb6" x1="0" y1="0" x2="1" y2="0"><stop offset="0" stop-color="#c84452"/><stop offset="0.3" stop-color="#cc5262"/><stop offset="0.36" stop-color="#d892a2"/><stop offset="0.46" stop-color="#e0c8d6"/><stop offset="0.56" stop-color="#dcd8ea"/><stop offset="0.65" stop-color="#b8b8de"/><stop offset="0.72" stop-color="#8686c6"/><stop offset="0.78" stop-color="#6464b0"/><stop offset="1" stop-color="#5656a8"/></linearGradient></defs>
<rect x="159.80" y="500.40" width="98.70" height="3.80" fill="url(#cb6)"/>
<text x="160.30" y="509.20" font-size="4.4" text-anchor="start" font-weight="bold" fill="#1e2a24" textLength="15.6" lengthAdjust="spacingAndGlyphs" stroke="#1e2a24" stroke-width="0.15">wildtype</text>
<path d="M209.89,504.20 L209.89,531.25" stroke="#e4e4e4" stroke-width="0.6"/>
<path d="M159.80,517.20 L159.80,514.20 C164.30,515.80 171.30,515.70 184.30,516.10 L208.90,516.70 L244.50,517.60 C253.50,518.00 257.00,518.70 258.50,520.00 L258.50,517.20 Z" fill="#c4c4c4" stroke="#a8a8a8" stroke-width="0.35"/>
<text x="209.89" y="520.40" font-size="2.6" text-anchor="middle" fill="#333" >Zero cross at 6069</text>
<text x="257.00" y="528.90" font-size="4.0" text-anchor="end" font-weight="bold" fill="#c0343a" >Dnmt3b-knockin</text>
<path d="M158.30,452.10 L262.80,452.10" stroke="#222" stroke-width="1.1"/>
<polyline points="158.40,446.60 159.80,443.90 161.50,443.20 163.60,444.20 166.80,443.20 170.10,443.90 174.40,445.50 178.70,446.80 183.00,447.70 186.20,448.80 190.50,451.50 195.90,454.70 202.20,459.00 209.40,464.00 216.60,469.00 223.90,473.40 231.10,477.00 238.30,479.20 245.50,481.80 249.80,482.80 253.40,481.30 255.60,477.70 257.00,470.50 257.80,463.30 258.50,453.90" fill="none" stroke="#94b044" stroke-width="1.15" stroke-linejoin="round"/>
<text x="261.80" y="446.10" font-size="4.0" text-anchor="end" fill="#111" stroke="#111" stroke-width="0.18">p-value &lt; 0.001</text>
<text x="261.80" y="450.20" font-size="4.0" text-anchor="end" fill="#111" stroke="#111" stroke-width="0.18">FDR &lt; 0.001</text>
<rect x="158.30" y="441.40" width="104.50" height="89.85" fill="none" stroke="#333" stroke-width="1.1"/>
<text x="284.40" y="188.20" font-size="11.6" text-anchor="start" font-weight="bold" fill="#000" >D</text>
<text x="408.00" y="191.10" font-size="7.3" text-anchor="middle" font-weight="bold" font-style="italic" fill="#000" >H1F0</text>
<rect x="332.50" y="192.50" width="159.40" height="82.90" fill="none" stroke="#222" stroke-width="1.1"/>
<path d="M329.50,208.50 L332.50,208.50" stroke="#222" stroke-width="0.9"/>
<text x="328.50" y="210.25" font-size="5.8" text-anchor="end" font-weight="bold" fill="#222" >HSC</text>
<path d="M329.50,234.25 L332.50,234.25" stroke="#222" stroke-width="0.9"/>
<text x="328.50" y="236.00" font-size="5.8" text-anchor="end" font-weight="bold" fill="#222" >CMP / GMP / MEP</text>
<path d="M329.50,259.60 L332.50,259.60" stroke="#222" stroke-width="0.9"/>
<text x="328.50" y="261.35" font-size="5.8" text-anchor="end" font-weight="bold" fill="#222" >Granulocytes</text>
<path d="M339.10,275.40 L339.10,278.00" stroke="#222" stroke-width="0.9"/>
<text x="339.10" y="283.70" font-size="5.8" text-anchor="middle" font-weight="bold" fill="#222" >5</text>
<path d="M361.82,275.40 L361.82,278.00" stroke="#222" stroke-width="0.9"/>
<text x="361.82" y="283.70" font-size="5.8" text-anchor="middle" font-weight="bold" fill="#222" >6</text>
<path d="M384.54,275.40 L384.54,278.00" stroke="#222" stroke-width="0.9"/>
<text x="384.54" y="283.70" font-size="5.8" text-anchor="middle" font-weight="bold" fill="#222" >7</text>
<path d="M407.26,275.40 L407.26,278.00" stroke="#222" stroke-width="0.9"/>
<text x="407.26" y="283.70" font-size="5.8" text-anchor="middle" font-weight="bold" fill="#222" >8</text>
<path d="M429.98,275.40 L429.98,278.00" stroke="#222" stroke-width="0.9"/>
<text x="429.98" y="283.70" font-size="5.8" text-anchor="middle" font-weight="bold" fill="#222" >9</text>
<path d="M452.70,275.40 L452.70,278.00" stroke="#222" stroke-width="0.9"/>
<text x="452.70" y="283.70" font-size="5.8" text-anchor="middle" font-weight="bold" fill="#222" >10</text>
<path d="M475.42,275.40 L475.42,278.00" stroke="#222" stroke-width="0.9"/>
<text x="475.42" y="283.70" font-size="5.8" text-anchor="middle" font-weight="bold" fill="#222" >11</text>
<text x="414.00" y="299.60" font-size="5.7" text-anchor="middle" font-weight="bold" fill="#222" textLength="112.0" lengthAdjust="spacingAndGlyphs">Gene expression profiling on microarray</text>
<path d="M444.00,208.50 L457.25,208.50 M473.75,208.50 L486.00,208.50" stroke="#111" stroke-width="1.1" stroke-dasharray="3.0,2.65"/>
<path d="M444.00,204.10 L444.00,212.90 M486.00,204.10 L486.00,212.90" stroke="#111" stroke-width="1.2"/>
<rect x="457.25" y="199.75" width="16.50" height="17.75" fill="#34449c" stroke="#1a2040" stroke-width="0.9"/>
<path d="M465.60,199.75 L465.60,217.50" stroke="#14183a" stroke-width="1.3"/>
<path d="M414.60,234.25 L434.15,234.25 M451.50,234.25 L466.50,234.25" stroke="#111" stroke-width="1.1" stroke-dasharray="3.0,2.65"/>
<path d="M414.60,229.45 L414.60,239.05 M466.50,229.45 L466.50,239.05" stroke="#111" stroke-width="1.2"/>
<rect x="434.15" y="224.15" width="17.35" height="19.35" fill="#4a84c6" stroke="#1a2040" stroke-width="0.9"/>
<path d="M443.50,224.15 L443.50,243.50" stroke="#14183a" stroke-width="1.3"/>
<path d="M338.50,259.60 L396.50,259.60 M439.70,259.60 L453.10,259.60" stroke="#111" stroke-width="1.1" stroke-dasharray="3.0,2.65"/>
<path d="M338.50,254.60 L338.50,264.60 M453.10,254.60 L453.10,264.60" stroke="#111" stroke-width="1.2"/>
<rect x="396.50" y="249.20" width="43.20" height="20.80" fill="#8ec6e2" stroke="#1a2040" stroke-width="0.9"/>
<path d="M410.00,249.20 L410.00,270.00" stroke="#14183a" stroke-width="1.3"/>
<circle cx="400.00" cy="233.90" r="1.3" fill="#111"/>
<text x="284.90" y="319.80" font-size="11.6" text-anchor="start" font-weight="bold" fill="#000" >E</text>
<text x="407.90" y="326.60" font-size="7.3" text-anchor="middle" font-weight="bold" font-style="italic" fill="#000" >GPR56</text>
<rect x="329.60" y="328.80" width="160.30" height="82.30" fill="none" stroke="#222" stroke-width="1.1"/>
<path d="M326.60,344.50 L329.60,344.50" stroke="#222" stroke-width="0.9"/>
<text x="325.60" y="346.25" font-size="5.8" text-anchor="end" font-weight="bold" fill="#222" >HSC</text>
<path d="M326.60,370.20 L329.60,370.20" stroke="#222" stroke-width="0.9"/>
<text x="325.60" y="371.95" font-size="5.8" text-anchor="end" font-weight="bold" fill="#222" >CMP / GMP / MEP</text>
<path d="M326.60,395.50 L329.60,395.50" stroke="#222" stroke-width="0.9"/>
<text x="325.60" y="397.25" font-size="5.8" text-anchor="end" font-weight="bold" fill="#222" >Granulocytes</text>
<path d="M332.40,411.10 L332.40,413.70" stroke="#222" stroke-width="0.9"/>
<text x="332.40" y="419.00" font-size="5.8" text-anchor="middle" font-weight="bold" fill="#222" >6</text>
<path d="M357.27,411.10 L357.27,413.70" stroke="#222" stroke-width="0.9"/>
<text x="357.27" y="419.00" font-size="5.8" text-anchor="middle" font-weight="bold" fill="#222" >7</text>
<path d="M382.14,411.10 L382.14,413.70" stroke="#222" stroke-width="0.9"/>
<text x="382.14" y="419.00" font-size="5.8" text-anchor="middle" font-weight="bold" fill="#222" >8</text>
<path d="M407.01,411.10 L407.01,413.70" stroke="#222" stroke-width="0.9"/>
<text x="407.01" y="419.00" font-size="5.8" text-anchor="middle" font-weight="bold" fill="#222" >9</text>
<path d="M431.88,411.10 L431.88,413.70" stroke="#222" stroke-width="0.9"/>
<text x="431.88" y="419.00" font-size="5.8" text-anchor="middle" font-weight="bold" fill="#222" >10</text>
<path d="M456.75,411.10 L456.75,413.70" stroke="#222" stroke-width="0.9"/>
<text x="456.75" y="419.00" font-size="5.8" text-anchor="middle" font-weight="bold" fill="#222" >11</text>
<path d="M481.62,411.10 L481.62,413.70" stroke="#222" stroke-width="0.9"/>
<text x="481.62" y="419.00" font-size="5.8" text-anchor="middle" font-weight="bold" fill="#222" >12</text>
<text x="416.90" y="429.70" font-size="5.7" text-anchor="middle" font-weight="bold" fill="#222" textLength="111.4" lengthAdjust="spacingAndGlyphs">Gene expression profiling on microarray</text>
<path d="M421.80,344.50 L431.50,344.50 M457.80,344.50 L464.60,344.50" stroke="#111" stroke-width="1.1" stroke-dasharray="3.0,2.65"/>
<path d="M421.80,340.10 L421.80,348.90 M464.60,340.10 L464.60,348.90" stroke="#111" stroke-width="1.2"/>
<rect x="431.50" y="335.70" width="26.30" height="17.40" fill="#34449c" stroke="#1a2040" stroke-width="0.9"/>
<path d="M437.40,335.70 L437.40,353.10" stroke="#14183a" stroke-width="1.3"/>
<path d="M345.00,370.20 L383.50,370.20 M421.20,370.20 L464.90,370.20" stroke="#111" stroke-width="1.1" stroke-dasharray="3.0,2.65"/>
<path d="M345.00,365.40 L345.00,375.00 M464.90,365.40 L464.90,375.00" stroke="#111" stroke-width="1.2"/>
<rect x="383.50" y="360.50" width="37.70" height="19.20" fill="#4a84c6" stroke="#1a2040" stroke-width="0.9"/>
<path d="M404.60,360.50 L404.60,379.70" stroke="#14183a" stroke-width="1.3"/>
<path d="M335.50,395.50 L354.50,395.50 M428.50,395.50 L483.30,395.50" stroke="#111" stroke-width="1.1" stroke-dasharray="3.0,2.65"/>
<path d="M335.50,390.50 L335.50,400.50 M483.30,390.50 L483.30,400.50" stroke="#111" stroke-width="1.2"/>
<rect x="354.50" y="385.20" width="74.00" height="21.40" fill="#8ec6e2" stroke="#1a2040" stroke-width="0.9"/>
<path d="M361.20,385.20 L361.20,406.60" stroke="#14183a" stroke-width="1.3"/>
</svg>
</body></html>
